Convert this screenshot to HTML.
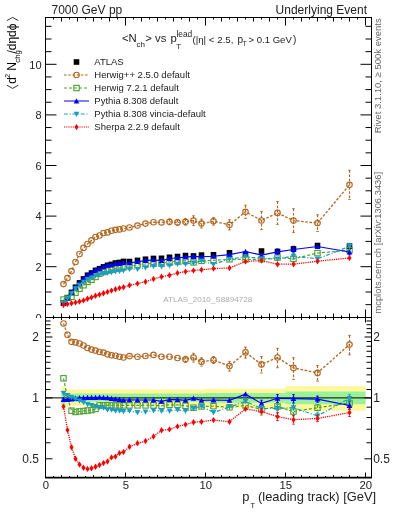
<!DOCTYPE html>
<html><head><meta charset="utf-8"><style>
html,body{margin:0;padding:0;background:#fff;overflow:hidden;}
svg{display:block;font-family:"Liberation Sans", sans-serif;will-change:transform;}
</style></head><body>
<svg width="393" height="512" viewBox="0 0 393 512">
<rect width="393" height="512" fill="#fff"/>
<defs><clipPath id="ctop"><rect x="45.5" y="17.5" width="326" height="300"/></clipPath><clipPath id="cbot"><rect x="45.5" y="317.5" width="326" height="160"/></clipPath></defs>
<text x="51.5" y="14" font-size="12" text-anchor="start" fill="#222" >7000 GeV pp</text>
<text x="367" y="14" font-size="12" text-anchor="end" fill="#222" >Underlying Event</text>
<g transform="translate(16.2,89) rotate(-90)">
<path d="M3.8,-9.3 L0.6,-3.6 L3.8,2.1" fill="none" stroke="#000" stroke-width="0.8"/>
<text x="5.2" y="0" font-size="12">d</text>
<text x="11" y="-6.2" font-size="7.6">2</text>
<text x="18.2" y="0" font-size="12">N</text>
<text x="26.3" y="3.3" font-size="7.8">chg</text>
<text x="35.4" y="0" font-size="12">/dηdϕ</text>
<path d="M68.4,-9.3 L71.6,-3.6 L68.4,2.1" fill="none" stroke="#000" stroke-width="0.8"/>
</g>
<text x="0" y="0" font-size="9.5" text-anchor="middle" fill="#222" transform="translate(19,396.5) rotate(-90)">Ratio to ATLAS</text>
<text x="0" y="0" font-size="9.5" text-anchor="end" fill="#666" transform="translate(381,18.3) rotate(-90)">Rivet 3.1.10, ≥ 500k events</text>
<text x="0" y="0" font-size="9.4" text-anchor="start" fill="#666" transform="translate(381,313.6) rotate(-90)">mcplots.cern.ch [arXiv:1306.3436]</text>
<text x="207.7" y="302.0" font-size="8.1" text-anchor="middle" fill="#aaa" >ATLAS_2010_S8894728</text>
<rect x="60.70" y="300.29" width="5.6" height="5.6" fill="#000"/>
<rect x="64.70" y="295.07" width="5.6" height="5.6" fill="#000"/>
<rect x="68.70" y="289.61" width="5.6" height="5.6" fill="#000"/>
<rect x="72.70" y="284.44" width="5.6" height="5.6" fill="#000"/>
<rect x="76.70" y="280.10" width="5.6" height="5.6" fill="#000"/>
<rect x="80.70" y="276.17" width="5.6" height="5.6" fill="#000"/>
<rect x="84.70" y="272.46" width="5.6" height="5.6" fill="#000"/>
<rect x="88.70" y="270.20" width="5.6" height="5.6" fill="#000"/>
<rect x="92.70" y="267.58" width="5.6" height="5.6" fill="#000"/>
<rect x="96.70" y="265.92" width="5.6" height="5.6" fill="#000"/>
<rect x="100.70" y="264.08" width="5.6" height="5.6" fill="#000"/>
<rect x="104.70" y="262.50" width="5.6" height="5.6" fill="#000"/>
<rect x="108.70" y="261.59" width="5.6" height="5.6" fill="#000"/>
<rect x="112.70" y="260.16" width="5.6" height="5.6" fill="#000"/>
<rect x="116.70" y="259.66" width="5.6" height="5.6" fill="#000"/>
<rect x="120.70" y="258.63" width="5.6" height="5.6" fill="#000"/>
<rect x="126.70" y="258.73" width="5.6" height="5.6" fill="#000"/>
<rect x="134.70" y="257.58" width="5.6" height="5.6" fill="#000"/>
<rect x="142.70" y="256.44" width="5.6" height="5.6" fill="#000"/>
<rect x="150.70" y="255.65" width="5.6" height="5.6" fill="#000"/>
<rect x="158.70" y="255.53" width="5.6" height="5.6" fill="#000"/>
<rect x="166.70" y="254.50" width="5.6" height="5.6" fill="#000"/>
<rect x="174.70" y="253.73" width="5.6" height="5.6" fill="#000"/>
<rect x="182.70" y="252.76" width="5.6" height="5.6" fill="#000"/>
<rect x="190.70" y="253.15" width="5.6" height="5.6" fill="#000"/>
<rect x="198.70" y="252.29" width="5.6" height="5.6" fill="#000"/>
<rect x="210.70" y="251.97" width="5.6" height="5.6" fill="#000"/>
<rect x="226.70" y="249.98" width="5.6" height="5.6" fill="#000"/>
<rect x="242.70" y="251.44" width="5.6" height="5.6" fill="#000"/>
<rect x="258.70" y="248.24" width="5.6" height="5.6" fill="#000"/>
<rect x="274.70" y="248.69" width="5.6" height="5.6" fill="#000"/>
<rect x="290.70" y="246.11" width="5.6" height="5.6" fill="#000"/>
<rect x="314.70" y="242.74" width="5.6" height="5.6" fill="#000"/>
<rect x="346.70" y="243.32" width="5.6" height="5.6" fill="#000"/>
<polyline points="63.50,284.10 67.50,278.10 71.50,271.10 75.50,262.00 79.50,254.00 83.50,247.90 87.50,244.00 91.50,240.40 95.50,237.00 99.50,235.50 103.50,233.00 107.50,232.40 111.50,230.70 115.50,229.80 119.50,229.40 123.50,228.50 129.50,227.50 137.50,225.60 145.50,223.60 153.50,222.20 161.50,222.40 169.50,221.80 177.50,222.40 185.50,221.80 193.50,220.60 201.50,223.60 213.50,221.30 229.50,224.80 245.50,211.80 261.50,220.50 277.50,212.90 293.50,220.60 317.50,223.10 349.50,184.80" fill="none" stroke="#b5651d" stroke-width="1.3" stroke-dasharray="2.6,1.6" clip-path="url(#ctop)"/>
<line x1="169.5" y1="218.94" x2="169.5" y2="224.66" stroke="#b5651d" stroke-width="1.2" stroke-dasharray="2.6,1.6"/>
<line x1="168.3" y1="218.94" x2="170.7" y2="218.94" stroke="#b5651d" stroke-width="1"/>
<line x1="168.3" y1="224.66" x2="170.7" y2="224.66" stroke="#b5651d" stroke-width="1"/>
<line x1="177.5" y1="219.56" x2="177.5" y2="225.24" stroke="#b5651d" stroke-width="1.2" stroke-dasharray="2.6,1.6"/>
<line x1="176.3" y1="219.56" x2="178.7" y2="219.56" stroke="#b5651d" stroke-width="1"/>
<line x1="176.3" y1="225.24" x2="178.7" y2="225.24" stroke="#b5651d" stroke-width="1"/>
<line x1="185.5" y1="218.46" x2="185.5" y2="225.14" stroke="#b5651d" stroke-width="1.2" stroke-dasharray="2.6,1.6"/>
<line x1="184.3" y1="218.46" x2="186.7" y2="218.46" stroke="#b5651d" stroke-width="1"/>
<line x1="184.3" y1="225.14" x2="186.7" y2="225.14" stroke="#b5651d" stroke-width="1"/>
<line x1="193.5" y1="215.77" x2="193.5" y2="225.43" stroke="#b5651d" stroke-width="1.2" stroke-dasharray="2.6,1.6"/>
<line x1="192.3" y1="215.77" x2="194.7" y2="215.77" stroke="#b5651d" stroke-width="1"/>
<line x1="192.3" y1="225.43" x2="194.7" y2="225.43" stroke="#b5651d" stroke-width="1"/>
<line x1="201.5" y1="219.20" x2="201.5" y2="228.00" stroke="#b5651d" stroke-width="1.2" stroke-dasharray="2.6,1.6"/>
<line x1="200.3" y1="219.20" x2="202.7" y2="219.20" stroke="#b5651d" stroke-width="1"/>
<line x1="200.3" y1="228.00" x2="202.7" y2="228.00" stroke="#b5651d" stroke-width="1"/>
<line x1="213.5" y1="217.46" x2="213.5" y2="225.14" stroke="#b5651d" stroke-width="1.2" stroke-dasharray="2.6,1.6"/>
<line x1="212.3" y1="217.46" x2="214.7" y2="217.46" stroke="#b5651d" stroke-width="1"/>
<line x1="212.3" y1="225.14" x2="214.7" y2="225.14" stroke="#b5651d" stroke-width="1"/>
<line x1="229.5" y1="219.72" x2="229.5" y2="229.88" stroke="#b5651d" stroke-width="1.2" stroke-dasharray="2.6,1.6"/>
<line x1="228.3" y1="219.72" x2="230.7" y2="219.72" stroke="#b5651d" stroke-width="1"/>
<line x1="228.3" y1="229.88" x2="230.7" y2="229.88" stroke="#b5651d" stroke-width="1"/>
<line x1="245.5" y1="205.16" x2="245.5" y2="218.44" stroke="#b5651d" stroke-width="1.2" stroke-dasharray="2.6,1.6"/>
<line x1="244.3" y1="205.16" x2="246.7" y2="205.16" stroke="#b5651d" stroke-width="1"/>
<line x1="244.3" y1="218.44" x2="246.7" y2="218.44" stroke="#b5651d" stroke-width="1"/>
<line x1="261.5" y1="211.41" x2="261.5" y2="229.59" stroke="#b5651d" stroke-width="1.2" stroke-dasharray="2.6,1.6"/>
<line x1="260.3" y1="211.41" x2="262.7" y2="211.41" stroke="#b5651d" stroke-width="1"/>
<line x1="260.3" y1="229.59" x2="262.7" y2="229.59" stroke="#b5651d" stroke-width="1"/>
<line x1="277.5" y1="201.43" x2="277.5" y2="224.37" stroke="#b5651d" stroke-width="1.2" stroke-dasharray="2.6,1.6"/>
<line x1="276.3" y1="201.43" x2="278.7" y2="201.43" stroke="#b5651d" stroke-width="1"/>
<line x1="276.3" y1="224.37" x2="278.7" y2="224.37" stroke="#b5651d" stroke-width="1"/>
<line x1="293.5" y1="208.72" x2="293.5" y2="232.48" stroke="#b5651d" stroke-width="1.2" stroke-dasharray="2.6,1.6"/>
<line x1="292.3" y1="208.72" x2="294.7" y2="208.72" stroke="#b5651d" stroke-width="1"/>
<line x1="292.3" y1="232.48" x2="294.7" y2="232.48" stroke="#b5651d" stroke-width="1"/>
<line x1="317.5" y1="214.73" x2="317.5" y2="231.47" stroke="#b5651d" stroke-width="1.2" stroke-dasharray="2.6,1.6"/>
<line x1="316.3" y1="214.73" x2="318.7" y2="214.73" stroke="#b5651d" stroke-width="1"/>
<line x1="316.3" y1="231.47" x2="318.7" y2="231.47" stroke="#b5651d" stroke-width="1"/>
<line x1="349.5" y1="170.24" x2="349.5" y2="199.36" stroke="#b5651d" stroke-width="1.2" stroke-dasharray="2.6,1.6"/>
<line x1="348.3" y1="170.24" x2="350.7" y2="170.24" stroke="#b5651d" stroke-width="1"/>
<line x1="348.3" y1="199.36" x2="350.7" y2="199.36" stroke="#b5651d" stroke-width="1"/>
<circle cx="63.50" cy="284.10" r="2.75" fill="none" stroke="#b5651d" stroke-width="1.15"/>
<circle cx="67.50" cy="278.10" r="2.75" fill="none" stroke="#b5651d" stroke-width="1.15"/>
<circle cx="71.50" cy="271.10" r="2.75" fill="none" stroke="#b5651d" stroke-width="1.15"/>
<circle cx="75.50" cy="262.00" r="2.75" fill="none" stroke="#b5651d" stroke-width="1.15"/>
<circle cx="79.50" cy="254.00" r="2.75" fill="none" stroke="#b5651d" stroke-width="1.15"/>
<circle cx="83.50" cy="247.90" r="2.75" fill="none" stroke="#b5651d" stroke-width="1.15"/>
<circle cx="87.50" cy="244.00" r="2.75" fill="none" stroke="#b5651d" stroke-width="1.15"/>
<circle cx="91.50" cy="240.40" r="2.75" fill="none" stroke="#b5651d" stroke-width="1.15"/>
<circle cx="95.50" cy="237.00" r="2.75" fill="none" stroke="#b5651d" stroke-width="1.15"/>
<circle cx="99.50" cy="235.50" r="2.75" fill="none" stroke="#b5651d" stroke-width="1.15"/>
<circle cx="103.50" cy="233.00" r="2.75" fill="none" stroke="#b5651d" stroke-width="1.15"/>
<circle cx="107.50" cy="232.40" r="2.75" fill="none" stroke="#b5651d" stroke-width="1.15"/>
<circle cx="111.50" cy="230.70" r="2.75" fill="none" stroke="#b5651d" stroke-width="1.15"/>
<circle cx="115.50" cy="229.80" r="2.75" fill="none" stroke="#b5651d" stroke-width="1.15"/>
<circle cx="119.50" cy="229.40" r="2.75" fill="none" stroke="#b5651d" stroke-width="1.15"/>
<circle cx="123.50" cy="228.50" r="2.75" fill="none" stroke="#b5651d" stroke-width="1.15"/>
<circle cx="129.50" cy="227.50" r="2.75" fill="none" stroke="#b5651d" stroke-width="1.15"/>
<circle cx="137.50" cy="225.60" r="2.75" fill="none" stroke="#b5651d" stroke-width="1.15"/>
<circle cx="145.50" cy="223.60" r="2.75" fill="none" stroke="#b5651d" stroke-width="1.15"/>
<circle cx="153.50" cy="222.20" r="2.75" fill="none" stroke="#b5651d" stroke-width="1.15"/>
<circle cx="161.50" cy="222.40" r="2.75" fill="none" stroke="#b5651d" stroke-width="1.15"/>
<circle cx="169.50" cy="221.80" r="2.75" fill="none" stroke="#b5651d" stroke-width="1.15"/>
<circle cx="177.50" cy="222.40" r="2.75" fill="none" stroke="#b5651d" stroke-width="1.15"/>
<circle cx="185.50" cy="221.80" r="2.75" fill="none" stroke="#b5651d" stroke-width="1.15"/>
<circle cx="193.50" cy="220.60" r="2.75" fill="none" stroke="#b5651d" stroke-width="1.15"/>
<circle cx="201.50" cy="223.60" r="2.75" fill="none" stroke="#b5651d" stroke-width="1.15"/>
<circle cx="213.50" cy="221.30" r="2.75" fill="none" stroke="#b5651d" stroke-width="1.15"/>
<circle cx="229.50" cy="224.80" r="2.75" fill="none" stroke="#b5651d" stroke-width="1.15"/>
<circle cx="245.50" cy="211.80" r="2.75" fill="none" stroke="#b5651d" stroke-width="1.15"/>
<circle cx="261.50" cy="220.50" r="2.75" fill="none" stroke="#b5651d" stroke-width="1.15"/>
<circle cx="277.50" cy="212.90" r="2.75" fill="none" stroke="#b5651d" stroke-width="1.15"/>
<circle cx="293.50" cy="220.60" r="2.75" fill="none" stroke="#b5651d" stroke-width="1.15"/>
<circle cx="317.50" cy="223.10" r="2.75" fill="none" stroke="#b5651d" stroke-width="1.15"/>
<circle cx="349.50" cy="184.80" r="2.75" fill="none" stroke="#b5651d" stroke-width="1.15"/>
<polyline points="63.50,299.57 67.50,297.89 71.50,296.77 75.50,292.68 79.50,288.79 83.50,285.27 87.50,281.86 91.50,279.73 95.50,276.94 99.50,273.69 103.50,272.00 107.50,270.54 111.50,269.71 115.50,268.40 119.50,267.94 123.50,266.99 129.50,266.09 137.50,265.03 145.50,263.99 153.50,263.25 161.50,263.40 169.50,261.82 177.50,261.12 185.50,260.86 193.50,262.41 201.50,260.89 213.50,260.39 229.50,259.31 245.50,259.39 261.50,259.23 277.50,257.62 293.50,258.77 317.50,253.11 349.50,250.13" fill="none" stroke="#4ca02c" stroke-width="1.2" stroke-dasharray="3,2" clip-path="url(#ctop)"/>
<line x1="293.5" y1="255.89" x2="293.5" y2="261.64" stroke="#4ca02c" stroke-width="1.2" stroke-dasharray="3,2"/>
<line x1="292.3" y1="255.89" x2="294.7" y2="255.89" stroke="#4ca02c" stroke-width="1"/>
<line x1="292.3" y1="261.64" x2="294.7" y2="261.64" stroke="#4ca02c" stroke-width="1"/>
<line x1="349.5" y1="247.18" x2="349.5" y2="253.08" stroke="#4ca02c" stroke-width="1.2" stroke-dasharray="3,2"/>
<line x1="348.3" y1="247.18" x2="350.7" y2="247.18" stroke="#4ca02c" stroke-width="1"/>
<line x1="348.3" y1="253.08" x2="350.7" y2="253.08" stroke="#4ca02c" stroke-width="1"/>
<rect x="60.80" y="296.87" width="5.4" height="5.4" fill="none" stroke="#4ca02c" stroke-width="1.1"/>
<rect x="64.80" y="295.19" width="5.4" height="5.4" fill="none" stroke="#4ca02c" stroke-width="1.1"/>
<rect x="68.80" y="294.07" width="5.4" height="5.4" fill="none" stroke="#4ca02c" stroke-width="1.1"/>
<rect x="72.80" y="289.98" width="5.4" height="5.4" fill="none" stroke="#4ca02c" stroke-width="1.1"/>
<rect x="76.80" y="286.09" width="5.4" height="5.4" fill="none" stroke="#4ca02c" stroke-width="1.1"/>
<rect x="80.80" y="282.57" width="5.4" height="5.4" fill="none" stroke="#4ca02c" stroke-width="1.1"/>
<rect x="84.80" y="279.16" width="5.4" height="5.4" fill="none" stroke="#4ca02c" stroke-width="1.1"/>
<rect x="88.80" y="277.03" width="5.4" height="5.4" fill="none" stroke="#4ca02c" stroke-width="1.1"/>
<rect x="92.80" y="274.24" width="5.4" height="5.4" fill="none" stroke="#4ca02c" stroke-width="1.1"/>
<rect x="96.80" y="270.99" width="5.4" height="5.4" fill="none" stroke="#4ca02c" stroke-width="1.1"/>
<rect x="100.80" y="269.30" width="5.4" height="5.4" fill="none" stroke="#4ca02c" stroke-width="1.1"/>
<rect x="104.80" y="267.84" width="5.4" height="5.4" fill="none" stroke="#4ca02c" stroke-width="1.1"/>
<rect x="108.80" y="267.01" width="5.4" height="5.4" fill="none" stroke="#4ca02c" stroke-width="1.1"/>
<rect x="112.80" y="265.70" width="5.4" height="5.4" fill="none" stroke="#4ca02c" stroke-width="1.1"/>
<rect x="116.80" y="265.24" width="5.4" height="5.4" fill="none" stroke="#4ca02c" stroke-width="1.1"/>
<rect x="120.80" y="264.29" width="5.4" height="5.4" fill="none" stroke="#4ca02c" stroke-width="1.1"/>
<rect x="126.80" y="263.39" width="5.4" height="5.4" fill="none" stroke="#4ca02c" stroke-width="1.1"/>
<rect x="134.80" y="262.33" width="5.4" height="5.4" fill="none" stroke="#4ca02c" stroke-width="1.1"/>
<rect x="142.80" y="261.29" width="5.4" height="5.4" fill="none" stroke="#4ca02c" stroke-width="1.1"/>
<rect x="150.80" y="260.55" width="5.4" height="5.4" fill="none" stroke="#4ca02c" stroke-width="1.1"/>
<rect x="158.80" y="260.70" width="5.4" height="5.4" fill="none" stroke="#4ca02c" stroke-width="1.1"/>
<rect x="166.80" y="259.12" width="5.4" height="5.4" fill="none" stroke="#4ca02c" stroke-width="1.1"/>
<rect x="174.80" y="258.42" width="5.4" height="5.4" fill="none" stroke="#4ca02c" stroke-width="1.1"/>
<rect x="182.80" y="258.16" width="5.4" height="5.4" fill="none" stroke="#4ca02c" stroke-width="1.1"/>
<rect x="190.80" y="259.71" width="5.4" height="5.4" fill="none" stroke="#4ca02c" stroke-width="1.1"/>
<rect x="198.80" y="258.19" width="5.4" height="5.4" fill="none" stroke="#4ca02c" stroke-width="1.1"/>
<rect x="210.80" y="257.69" width="5.4" height="5.4" fill="none" stroke="#4ca02c" stroke-width="1.1"/>
<rect x="226.80" y="256.61" width="5.4" height="5.4" fill="none" stroke="#4ca02c" stroke-width="1.1"/>
<rect x="242.80" y="256.69" width="5.4" height="5.4" fill="none" stroke="#4ca02c" stroke-width="1.1"/>
<rect x="258.80" y="256.53" width="5.4" height="5.4" fill="none" stroke="#4ca02c" stroke-width="1.1"/>
<rect x="274.80" y="254.92" width="5.4" height="5.4" fill="none" stroke="#4ca02c" stroke-width="1.1"/>
<rect x="290.80" y="256.07" width="5.4" height="5.4" fill="none" stroke="#4ca02c" stroke-width="1.1"/>
<rect x="314.80" y="250.41" width="5.4" height="5.4" fill="none" stroke="#4ca02c" stroke-width="1.1"/>
<rect x="346.80" y="247.43" width="5.4" height="5.4" fill="none" stroke="#4ca02c" stroke-width="1.1"/>
<polyline points="63.50,303.35 67.50,298.22 71.50,292.72 75.50,287.45 79.50,282.94 83.50,278.93 87.50,275.11 91.50,272.85 95.50,270.22 99.50,268.44 103.50,266.71 107.50,265.24 111.50,264.81 115.50,263.75 119.50,263.57 123.50,262.87 129.50,262.79 137.50,261.72 145.50,260.61 153.50,259.83 161.50,260.57 169.50,258.51 177.50,257.76 185.50,257.22 193.50,256.29 201.50,256.77 213.50,256.24 229.50,254.58 245.50,251.53 261.50,255.06 277.50,251.79 293.50,249.53 317.50,246.52 349.50,252.01" fill="none" stroke="#0000ff" stroke-width="1.2"  clip-path="url(#ctop)"/>
<line x1="277.5" y1="248.91" x2="277.5" y2="254.66" stroke="#0000ff" stroke-width="1.2" />
<line x1="276.3" y1="248.91" x2="278.7" y2="248.91" stroke="#0000ff" stroke-width="1"/>
<line x1="276.3" y1="254.66" x2="278.7" y2="254.66" stroke="#0000ff" stroke-width="1"/>
<line x1="293.5" y1="246.20" x2="293.5" y2="252.86" stroke="#0000ff" stroke-width="1.2" />
<line x1="292.3" y1="246.20" x2="294.7" y2="246.20" stroke="#0000ff" stroke-width="1"/>
<line x1="292.3" y1="252.86" x2="294.7" y2="252.86" stroke="#0000ff" stroke-width="1"/>
<line x1="349.5" y1="249.14" x2="349.5" y2="254.88" stroke="#0000ff" stroke-width="1.2" />
<line x1="348.3" y1="249.14" x2="350.7" y2="249.14" stroke="#0000ff" stroke-width="1"/>
<line x1="348.3" y1="254.88" x2="350.7" y2="254.88" stroke="#0000ff" stroke-width="1"/>
<path d="M60.70,305.75L66.30,305.75L63.50,300.45Z" fill="#0000ff"/>
<path d="M64.70,300.62L70.30,300.62L67.50,295.32Z" fill="#0000ff"/>
<path d="M68.70,295.12L74.30,295.12L71.50,289.82Z" fill="#0000ff"/>
<path d="M72.70,289.85L78.30,289.85L75.50,284.55Z" fill="#0000ff"/>
<path d="M76.70,285.34L82.30,285.34L79.50,280.04Z" fill="#0000ff"/>
<path d="M80.70,281.33L86.30,281.33L83.50,276.03Z" fill="#0000ff"/>
<path d="M84.70,277.51L90.30,277.51L87.50,272.21Z" fill="#0000ff"/>
<path d="M88.70,275.25L94.30,275.25L91.50,269.95Z" fill="#0000ff"/>
<path d="M92.70,272.62L98.30,272.62L95.50,267.32Z" fill="#0000ff"/>
<path d="M96.70,270.84L102.30,270.84L99.50,265.54Z" fill="#0000ff"/>
<path d="M100.70,269.11L106.30,269.11L103.50,263.81Z" fill="#0000ff"/>
<path d="M104.70,267.64L110.30,267.64L107.50,262.34Z" fill="#0000ff"/>
<path d="M108.70,267.21L114.30,267.21L111.50,261.91Z" fill="#0000ff"/>
<path d="M112.70,266.15L118.30,266.15L115.50,260.85Z" fill="#0000ff"/>
<path d="M116.70,265.97L122.30,265.97L119.50,260.67Z" fill="#0000ff"/>
<path d="M120.70,265.27L126.30,265.27L123.50,259.97Z" fill="#0000ff"/>
<path d="M126.70,265.19L132.30,265.19L129.50,259.89Z" fill="#0000ff"/>
<path d="M134.70,264.12L140.30,264.12L137.50,258.82Z" fill="#0000ff"/>
<path d="M142.70,263.01L148.30,263.01L145.50,257.71Z" fill="#0000ff"/>
<path d="M150.70,262.23L156.30,262.23L153.50,256.93Z" fill="#0000ff"/>
<path d="M158.70,262.97L164.30,262.97L161.50,257.67Z" fill="#0000ff"/>
<path d="M166.70,260.91L172.30,260.91L169.50,255.61Z" fill="#0000ff"/>
<path d="M174.70,260.16L180.30,260.16L177.50,254.86Z" fill="#0000ff"/>
<path d="M182.70,259.62L188.30,259.62L185.50,254.32Z" fill="#0000ff"/>
<path d="M190.70,258.69L196.30,258.69L193.50,253.39Z" fill="#0000ff"/>
<path d="M198.70,259.17L204.30,259.17L201.50,253.87Z" fill="#0000ff"/>
<path d="M210.70,258.64L216.30,258.64L213.50,253.34Z" fill="#0000ff"/>
<path d="M226.70,256.98L232.30,256.98L229.50,251.68Z" fill="#0000ff"/>
<path d="M242.70,253.93L248.30,253.93L245.50,248.63Z" fill="#0000ff"/>
<path d="M258.70,257.46L264.30,257.46L261.50,252.16Z" fill="#0000ff"/>
<path d="M274.70,254.19L280.30,254.19L277.50,248.89Z" fill="#0000ff"/>
<path d="M290.70,251.93L296.30,251.93L293.50,246.63Z" fill="#0000ff"/>
<path d="M314.70,248.92L320.30,248.92L317.50,243.62Z" fill="#0000ff"/>
<path d="M346.70,254.41L352.30,254.41L349.50,249.11Z" fill="#0000ff"/>
<polyline points="63.50,302.85 67.50,298.49 71.50,293.44 75.50,288.75 79.50,285.25 83.50,282.08 87.50,279.45 91.50,277.82 95.50,275.90 99.50,274.89 103.50,273.50 107.50,273.12 111.50,272.33 115.50,271.62 119.50,271.19 123.50,270.63 129.50,269.19 137.50,269.08 145.50,267.72 153.50,266.30 161.50,266.49 169.50,265.60 177.50,264.22 185.50,264.10 193.50,262.91 201.50,260.89 213.50,264.32 229.50,259.12 245.50,256.70 261.50,258.56 277.50,258.96 293.50,256.12 317.50,258.82 349.50,246.44" fill="none" stroke="#1a9cc4" stroke-width="1.2" stroke-dasharray="3.8,1.9,1.1,1.6" clip-path="url(#ctop)"/>
<line x1="293.5" y1="253.11" x2="293.5" y2="259.12" stroke="#1a9cc4" stroke-width="1.2" stroke-dasharray="3.8,1.9,1.1,1.6"/>
<line x1="292.3" y1="253.11" x2="294.7" y2="253.11" stroke="#1a9cc4" stroke-width="1"/>
<line x1="292.3" y1="259.12" x2="294.7" y2="259.12" stroke="#1a9cc4" stroke-width="1"/>
<line x1="349.5" y1="243.33" x2="349.5" y2="249.56" stroke="#1a9cc4" stroke-width="1.2" stroke-dasharray="3.8,1.9,1.1,1.6"/>
<line x1="348.3" y1="243.33" x2="350.7" y2="243.33" stroke="#1a9cc4" stroke-width="1"/>
<line x1="348.3" y1="249.56" x2="350.7" y2="249.56" stroke="#1a9cc4" stroke-width="1"/>
<path d="M60.70,300.45L66.30,300.45L63.50,305.75Z" fill="#1a9cc4"/>
<path d="M64.70,296.09L70.30,296.09L67.50,301.39Z" fill="#1a9cc4"/>
<path d="M68.70,291.04L74.30,291.04L71.50,296.34Z" fill="#1a9cc4"/>
<path d="M72.70,286.35L78.30,286.35L75.50,291.65Z" fill="#1a9cc4"/>
<path d="M76.70,282.85L82.30,282.85L79.50,288.15Z" fill="#1a9cc4"/>
<path d="M80.70,279.68L86.30,279.68L83.50,284.98Z" fill="#1a9cc4"/>
<path d="M84.70,277.05L90.30,277.05L87.50,282.35Z" fill="#1a9cc4"/>
<path d="M88.70,275.42L94.30,275.42L91.50,280.72Z" fill="#1a9cc4"/>
<path d="M92.70,273.50L98.30,273.50L95.50,278.80Z" fill="#1a9cc4"/>
<path d="M96.70,272.49L102.30,272.49L99.50,277.79Z" fill="#1a9cc4"/>
<path d="M100.70,271.10L106.30,271.10L103.50,276.40Z" fill="#1a9cc4"/>
<path d="M104.70,270.72L110.30,270.72L107.50,276.02Z" fill="#1a9cc4"/>
<path d="M108.70,269.93L114.30,269.93L111.50,275.23Z" fill="#1a9cc4"/>
<path d="M112.70,269.22L118.30,269.22L115.50,274.52Z" fill="#1a9cc4"/>
<path d="M116.70,268.79L122.30,268.79L119.50,274.09Z" fill="#1a9cc4"/>
<path d="M120.70,268.23L126.30,268.23L123.50,273.53Z" fill="#1a9cc4"/>
<path d="M126.70,266.79L132.30,266.79L129.50,272.09Z" fill="#1a9cc4"/>
<path d="M134.70,266.68L140.30,266.68L137.50,271.98Z" fill="#1a9cc4"/>
<path d="M142.70,265.32L148.30,265.32L145.50,270.62Z" fill="#1a9cc4"/>
<path d="M150.70,263.90L156.30,263.90L153.50,269.20Z" fill="#1a9cc4"/>
<path d="M158.70,264.09L164.30,264.09L161.50,269.39Z" fill="#1a9cc4"/>
<path d="M166.70,263.20L172.30,263.20L169.50,268.50Z" fill="#1a9cc4"/>
<path d="M174.70,261.82L180.30,261.82L177.50,267.12Z" fill="#1a9cc4"/>
<path d="M182.70,261.70L188.30,261.70L185.50,267.00Z" fill="#1a9cc4"/>
<path d="M190.70,260.51L196.30,260.51L193.50,265.81Z" fill="#1a9cc4"/>
<path d="M198.70,258.49L204.30,258.49L201.50,263.79Z" fill="#1a9cc4"/>
<path d="M210.70,261.92L216.30,261.92L213.50,267.22Z" fill="#1a9cc4"/>
<path d="M226.70,256.72L232.30,256.72L229.50,262.02Z" fill="#1a9cc4"/>
<path d="M242.70,254.30L248.30,254.30L245.50,259.60Z" fill="#1a9cc4"/>
<path d="M258.70,256.16L264.30,256.16L261.50,261.46Z" fill="#1a9cc4"/>
<path d="M274.70,256.56L280.30,256.56L277.50,261.86Z" fill="#1a9cc4"/>
<path d="M290.70,253.72L296.30,253.72L293.50,259.02Z" fill="#1a9cc4"/>
<path d="M314.70,256.42L320.30,256.42L317.50,261.72Z" fill="#1a9cc4"/>
<path d="M346.70,244.04L352.30,244.04L349.50,249.34Z" fill="#1a9cc4"/>
<polyline points="63.50,305.00 67.50,304.10 71.50,303.30 75.50,302.40 79.50,301.50 83.50,300.40 87.50,298.80 91.50,297.40 95.50,295.80 99.50,294.60 103.50,293.20 107.50,291.90 111.50,290.60 115.50,289.30 119.50,288.10 123.50,287.20 129.50,285.30 137.50,283.60 145.50,281.80 153.50,279.00 161.50,276.80 169.50,275.20 177.50,273.00 185.50,271.60 193.50,270.60 201.50,269.80 213.50,268.60 229.50,268.00 245.50,261.50 261.50,260.50 277.50,264.20 293.50,264.20 317.50,261.20 349.50,258.00" fill="none" stroke="#ff0000" stroke-width="1.3" stroke-dasharray="1.2,1" clip-path="url(#ctop)"/>
<path d="M63.50,301.80L65.50,305.00L63.50,308.20L61.50,305.00Z" fill="#ff0000"/>
<path d="M67.50,300.90L69.50,304.10L67.50,307.30L65.50,304.10Z" fill="#ff0000"/>
<path d="M71.50,300.10L73.50,303.30L71.50,306.50L69.50,303.30Z" fill="#ff0000"/>
<path d="M75.50,299.20L77.50,302.40L75.50,305.60L73.50,302.40Z" fill="#ff0000"/>
<path d="M79.50,298.30L81.50,301.50L79.50,304.70L77.50,301.50Z" fill="#ff0000"/>
<path d="M83.50,297.20L85.50,300.40L83.50,303.60L81.50,300.40Z" fill="#ff0000"/>
<path d="M87.50,295.60L89.50,298.80L87.50,302.00L85.50,298.80Z" fill="#ff0000"/>
<path d="M91.50,294.20L93.50,297.40L91.50,300.60L89.50,297.40Z" fill="#ff0000"/>
<path d="M95.50,292.60L97.50,295.80L95.50,299.00L93.50,295.80Z" fill="#ff0000"/>
<path d="M99.50,291.40L101.50,294.60L99.50,297.80L97.50,294.60Z" fill="#ff0000"/>
<path d="M103.50,290.00L105.50,293.20L103.50,296.40L101.50,293.20Z" fill="#ff0000"/>
<path d="M107.50,288.70L109.50,291.90L107.50,295.10L105.50,291.90Z" fill="#ff0000"/>
<path d="M111.50,287.40L113.50,290.60L111.50,293.80L109.50,290.60Z" fill="#ff0000"/>
<path d="M115.50,286.10L117.50,289.30L115.50,292.50L113.50,289.30Z" fill="#ff0000"/>
<path d="M119.50,284.90L121.50,288.10L119.50,291.30L117.50,288.10Z" fill="#ff0000"/>
<path d="M123.50,284.00L125.50,287.20L123.50,290.40L121.50,287.20Z" fill="#ff0000"/>
<path d="M129.50,282.10L131.50,285.30L129.50,288.50L127.50,285.30Z" fill="#ff0000"/>
<path d="M137.50,280.40L139.50,283.60L137.50,286.80L135.50,283.60Z" fill="#ff0000"/>
<path d="M145.50,278.60L147.50,281.80L145.50,285.00L143.50,281.80Z" fill="#ff0000"/>
<path d="M153.50,275.80L155.50,279.00L153.50,282.20L151.50,279.00Z" fill="#ff0000"/>
<path d="M161.50,273.60L163.50,276.80L161.50,280.00L159.50,276.80Z" fill="#ff0000"/>
<path d="M169.50,272.00L171.50,275.20L169.50,278.40L167.50,275.20Z" fill="#ff0000"/>
<path d="M177.50,269.80L179.50,273.00L177.50,276.20L175.50,273.00Z" fill="#ff0000"/>
<path d="M185.50,268.40L187.50,271.60L185.50,274.80L183.50,271.60Z" fill="#ff0000"/>
<path d="M193.50,267.40L195.50,270.60L193.50,273.80L191.50,270.60Z" fill="#ff0000"/>
<path d="M201.50,266.60L203.50,269.80L201.50,273.00L199.50,269.80Z" fill="#ff0000"/>
<path d="M213.50,265.40L215.50,268.60L213.50,271.80L211.50,268.60Z" fill="#ff0000"/>
<path d="M229.50,264.80L231.50,268.00L229.50,271.20L227.50,268.00Z" fill="#ff0000"/>
<path d="M245.50,258.30L247.50,261.50L245.50,264.70L243.50,261.50Z" fill="#ff0000"/>
<path d="M261.50,257.30L263.50,260.50L261.50,263.70L259.50,260.50Z" fill="#ff0000"/>
<path d="M277.50,261.00L279.50,264.20L277.50,267.40L275.50,264.20Z" fill="#ff0000"/>
<path d="M293.50,261.00L295.50,264.20L293.50,267.40L291.50,264.20Z" fill="#ff0000"/>
<path d="M317.50,258.00L319.50,261.20L317.50,264.40L315.50,261.20Z" fill="#ff0000"/>
<path d="M349.50,254.80L351.50,258.00L349.50,261.20L347.50,258.00Z" fill="#ff0000"/>
<rect x="73.70" y="59.20" width="5.6" height="5.6" fill="#000"/>
<text x="94.3" y="65.0" font-size="9.5" text-anchor="start" fill="#222" >ATLAS</text>
<line x1="64" y1="75" x2="89" y2="75" stroke="#b5651d" stroke-width="1.0" stroke-dasharray="2.6,1.6"/>
<circle cx="76.50" cy="75.02" r="2.75" fill="none" stroke="#b5651d" stroke-width="1.15"/>
<text x="94.3" y="78.02" font-size="9.5" text-anchor="start" fill="#222" >Herwig++ 2.5.0 default</text>
<line x1="64" y1="88" x2="89" y2="88" stroke="#4ca02c" stroke-width="1.0" stroke-dasharray="3,2"/>
<rect x="73.80" y="85.34" width="5.4" height="5.4" fill="none" stroke="#4ca02c" stroke-width="1.1"/>
<text x="94.3" y="91.03999999999999" font-size="9.5" text-anchor="start" fill="#222" >Herwig 7.2.1 default</text>
<line x1="64" y1="101" x2="89" y2="101" stroke="#0000ff" stroke-width="1.0" />
<path d="M73.70,103.46L79.30,103.46L76.50,98.16Z" fill="#0000ff"/>
<text x="94.3" y="104.06" font-size="9.5" text-anchor="start" fill="#222" >Pythia 8.308 default</text>
<line x1="64" y1="114" x2="89" y2="114" stroke="#1a9cc4" stroke-width="1.0" stroke-dasharray="3.8,1.9,1.1,1.6"/>
<path d="M73.70,111.68L79.30,111.68L76.50,116.98Z" fill="#1a9cc4"/>
<text x="94.3" y="117.08" font-size="9.5" text-anchor="start" fill="#222" >Pythia 8.308 vincia-default</text>
<line x1="64" y1="127" x2="89" y2="127" stroke="#ff0000" stroke-width="1.0" stroke-dasharray="1.2,1"/>
<path d="M76.50,123.90L78.50,127.10L76.50,130.30L74.50,127.10Z" fill="#ff0000"/>
<text x="94.3" y="130.1" font-size="9.5" text-anchor="start" fill="#222" >Sherpa 2.2.9 default</text>
<text x="41.6" y="321.5" font-size="11" text-anchor="end" fill="#222" >0</text>
<rect x="0" y="318" width="372" height="160" fill="#fff"/>
<path d="M61.5,386.7 L61.5,386.7 L65.5,386.7 L65.5,389.6 L69.5,389.6 L69.5,389.6 L73.5,389.6 L73.5,389.6 L77.5,389.6 L77.5,389.6 L81.5,389.6 L81.5,389.6 L85.5,389.6 L85.5,389.6 L89.5,389.6 L89.5,389.6 L93.5,389.6 L93.5,389.6 L97.5,389.6 L97.5,389.6 L101.5,389.6 L101.5,389.6 L105.5,389.6 L105.5,389.6 L109.5,389.6 L109.5,389.6 L113.5,389.6 L113.5,389.6 L117.5,389.6 L117.5,389.6 L121.5,389.6 L121.5,389.6 L125.5,389.6 L125.5,389.6 L133.5,389.6 L133.5,389.6 L141.5,389.6 L141.5,389.6 L149.5,389.6 L149.5,389.6 L157.5,389.6 L157.5,389.6 L165.5,389.6 L165.5,389.6 L173.5,389.6 L173.5,389.6 L181.5,389.6 L181.5,389.6 L189.5,389.6 L189.5,389.6 L197.5,389.6 L197.5,389.6 L205.5,389.6 L205.5,388.8 L221.5,388.8 L221.5,388.8 L237.5,388.8 L237.5,388.8 L253.5,388.8 L253.5,388.8 L269.5,388.8 L269.5,388.8 L285.5,388.8 L285.5,386.2 L301.5,386.2 L301.5,386.2 L333.5,386.2 L333.5,386.2 L365.5,386.2 L365.5,410.7 L333.5,410.7 L333.5,410.7 L301.5,410.7 L301.5,410.7 L285.5,410.7 L285.5,408.3 L269.5,408.3 L269.5,408.3 L253.5,408.3 L253.5,408.3 L237.5,408.3 L237.5,408.3 L221.5,408.3 L221.5,408.3 L205.5,408.3 L205.5,405.8 L197.5,405.8 L197.5,405.8 L189.5,405.8 L189.5,405.8 L181.5,405.8 L181.5,405.8 L173.5,405.8 L173.5,405.8 L165.5,405.8 L165.5,405.8 L157.5,405.8 L157.5,405.8 L149.5,405.8 L149.5,405.8 L141.5,405.8 L141.5,405.8 L133.5,405.8 L133.5,405.8 L125.5,405.8 L125.5,405.8 L121.5,405.8 L121.5,405.8 L117.5,405.8 L117.5,405.8 L113.5,405.8 L113.5,405.8 L109.5,405.8 L109.5,405.8 L105.5,405.8 L105.5,405.8 L101.5,405.8 L101.5,405.8 L97.5,405.8 L97.5,405.8 L93.5,405.8 L93.5,405.8 L89.5,405.8 L89.5,405.8 L85.5,405.8 L85.5,405.8 L81.5,405.8 L81.5,405.8 L77.5,405.8 L77.5,405.8 L73.5,405.8 L73.5,405.8 L69.5,405.8 L69.5,405.8 L65.5,405.8 L65.5,410 L61.5,410 Z" fill="#fff899"/>
<path d="M61.5,390.6 L61.5,390.6 L65.5,390.6 L65.5,393.5 L69.5,393.5 L69.5,393.5 L73.5,393.5 L73.5,393.5 L77.5,393.5 L77.5,393.5 L81.5,393.5 L81.5,393.5 L85.5,393.5 L85.5,393.5 L89.5,393.5 L89.5,393.5 L93.5,393.5 L93.5,393.5 L97.5,393.5 L97.5,393.5 L101.5,393.5 L101.5,393.5 L105.5,393.5 L105.5,393.5 L109.5,393.5 L109.5,393.5 L113.5,393.5 L113.5,393.5 L117.5,393.5 L117.5,393.5 L121.5,393.5 L121.5,393.5 L125.5,393.5 L125.5,393.5 L133.5,393.5 L133.5,393.5 L141.5,393.5 L141.5,393.5 L149.5,393.5 L149.5,393.5 L157.5,393.5 L157.5,393.5 L165.5,393.5 L165.5,393.5 L173.5,393.5 L173.5,393.5 L181.5,393.5 L181.5,393.5 L189.5,393.5 L189.5,393.5 L197.5,393.5 L197.5,393.5 L205.5,393.5 L205.5,393.1 L221.5,393.1 L221.5,393.1 L237.5,393.1 L237.5,393.1 L253.5,393.1 L253.5,393.1 L269.5,393.1 L269.5,393.1 L285.5,393.1 L285.5,391.4 L301.5,391.4 L301.5,391.4 L333.5,391.4 L333.5,391.4 L365.5,391.4 L365.5,404.2 L333.5,404.2 L333.5,404.2 L301.5,404.2 L301.5,404.2 L285.5,404.2 L285.5,402.8 L269.5,402.8 L269.5,402.8 L253.5,402.8 L253.5,402.8 L237.5,402.8 L237.5,402.8 L221.5,402.8 L221.5,402.8 L205.5,402.8 L205.5,401.8 L197.5,401.8 L197.5,401.8 L189.5,401.8 L189.5,401.8 L181.5,401.8 L181.5,401.8 L173.5,401.8 L173.5,401.8 L165.5,401.8 L165.5,401.8 L157.5,401.8 L157.5,401.8 L149.5,401.8 L149.5,401.8 L141.5,401.8 L141.5,401.8 L133.5,401.8 L133.5,401.8 L125.5,401.8 L125.5,401.8 L121.5,401.8 L121.5,401.8 L117.5,401.8 L117.5,401.8 L113.5,401.8 L113.5,401.8 L109.5,401.8 L109.5,401.8 L105.5,401.8 L105.5,401.8 L101.5,401.8 L101.5,401.8 L97.5,401.8 L97.5,401.8 L93.5,401.8 L93.5,401.8 L89.5,401.8 L89.5,401.8 L85.5,401.8 L85.5,401.8 L81.5,401.8 L81.5,401.8 L77.5,401.8 L77.5,401.8 L73.5,401.8 L73.5,401.8 L69.5,401.8 L69.5,401.8 L65.5,401.8 L65.5,405.2 L61.5,405.2 Z" fill="#99f299"/>
<line x1="45.5" y1="397.9" x2="371.5" y2="397.9" stroke="#000" stroke-width="1" />
<polyline points="63.50,323.50 67.50,334.70 71.50,341.80 75.50,342.40 79.50,343.50 83.50,345.50 87.50,348.00 91.50,349.60 95.50,350.60 99.50,352.00 103.50,352.60 107.50,354.30 111.50,355.30 115.50,355.70 119.50,356.70 123.50,357.50 129.50,356.10 137.50,356.70 145.50,356.00 153.50,354.90 161.50,356.70 169.50,356.70 177.50,358.00 185.50,359.30 193.50,357.50 201.50,361.80 213.50,360.00 229.50,366.10 245.50,352.40 261.50,364.40 277.50,357.50 293.50,367.90 317.50,372.90 349.50,344.60" fill="none" stroke="#b5651d" stroke-width="1.3" stroke-dasharray="2.6,1.6" clip-path="url(#cbot)"/>
<line x1="185.5" y1="356.28" x2="185.5" y2="362.43" stroke="#b5651d" stroke-width="1.2" stroke-dasharray="2.6,1.6"/>
<line x1="184.3" y1="356.28" x2="186.7" y2="356.28" stroke="#b5651d" stroke-width="1"/>
<line x1="184.3" y1="362.43" x2="186.7" y2="362.43" stroke="#b5651d" stroke-width="1"/>
<line x1="193.5" y1="353.21" x2="193.5" y2="362.01" stroke="#b5651d" stroke-width="1.2" stroke-dasharray="2.6,1.6"/>
<line x1="192.3" y1="353.21" x2="194.7" y2="353.21" stroke="#b5651d" stroke-width="1"/>
<line x1="192.3" y1="362.01" x2="194.7" y2="362.01" stroke="#b5651d" stroke-width="1"/>
<line x1="201.5" y1="357.76" x2="201.5" y2="366.03" stroke="#b5651d" stroke-width="1.2" stroke-dasharray="2.6,1.6"/>
<line x1="200.3" y1="357.76" x2="202.7" y2="357.76" stroke="#b5651d" stroke-width="1"/>
<line x1="200.3" y1="366.03" x2="202.7" y2="366.03" stroke="#b5651d" stroke-width="1"/>
<line x1="213.5" y1="356.55" x2="213.5" y2="363.59" stroke="#b5651d" stroke-width="1.2" stroke-dasharray="2.6,1.6"/>
<line x1="212.3" y1="356.55" x2="214.7" y2="356.55" stroke="#b5651d" stroke-width="1"/>
<line x1="212.3" y1="363.59" x2="214.7" y2="363.59" stroke="#b5651d" stroke-width="1"/>
<line x1="229.5" y1="361.40" x2="229.5" y2="371.07" stroke="#b5651d" stroke-width="1.2" stroke-dasharray="2.6,1.6"/>
<line x1="228.3" y1="361.40" x2="230.7" y2="361.40" stroke="#b5651d" stroke-width="1"/>
<line x1="228.3" y1="371.07" x2="230.7" y2="371.07" stroke="#b5651d" stroke-width="1"/>
<line x1="245.5" y1="347.03" x2="245.5" y2="358.12" stroke="#b5651d" stroke-width="1.2" stroke-dasharray="2.6,1.6"/>
<line x1="244.3" y1="347.03" x2="246.7" y2="347.03" stroke="#b5651d" stroke-width="1"/>
<line x1="244.3" y1="358.12" x2="246.7" y2="358.12" stroke="#b5651d" stroke-width="1"/>
<line x1="261.5" y1="356.51" x2="261.5" y2="373.07" stroke="#b5651d" stroke-width="1.2" stroke-dasharray="2.6,1.6"/>
<line x1="260.3" y1="356.51" x2="262.7" y2="356.51" stroke="#b5651d" stroke-width="1"/>
<line x1="260.3" y1="373.07" x2="262.7" y2="373.07" stroke="#b5651d" stroke-width="1"/>
<line x1="277.5" y1="348.33" x2="277.5" y2="367.74" stroke="#b5651d" stroke-width="1.2" stroke-dasharray="2.6,1.6"/>
<line x1="276.3" y1="348.33" x2="278.7" y2="348.33" stroke="#b5651d" stroke-width="1"/>
<line x1="276.3" y1="367.74" x2="278.7" y2="367.74" stroke="#b5651d" stroke-width="1"/>
<line x1="293.5" y1="357.71" x2="293.5" y2="379.43" stroke="#b5651d" stroke-width="1.2" stroke-dasharray="2.6,1.6"/>
<line x1="292.3" y1="357.71" x2="294.7" y2="357.71" stroke="#b5651d" stroke-width="1"/>
<line x1="292.3" y1="379.43" x2="294.7" y2="379.43" stroke="#b5651d" stroke-width="1"/>
<line x1="317.5" y1="365.41" x2="317.5" y2="381.09" stroke="#b5651d" stroke-width="1.2" stroke-dasharray="2.6,1.6"/>
<line x1="316.3" y1="365.41" x2="318.7" y2="365.41" stroke="#b5651d" stroke-width="1"/>
<line x1="316.3" y1="381.09" x2="318.7" y2="381.09" stroke="#b5651d" stroke-width="1"/>
<line x1="349.5" y1="335.43" x2="349.5" y2="354.84" stroke="#b5651d" stroke-width="1.2" stroke-dasharray="2.6,1.6"/>
<line x1="348.3" y1="335.43" x2="350.7" y2="335.43" stroke="#b5651d" stroke-width="1"/>
<line x1="348.3" y1="354.84" x2="350.7" y2="354.84" stroke="#b5651d" stroke-width="1"/>
<circle cx="63.50" cy="323.50" r="2.75" fill="none" stroke="#b5651d" stroke-width="1.15"/>
<circle cx="67.50" cy="334.70" r="2.75" fill="none" stroke="#b5651d" stroke-width="1.15"/>
<circle cx="71.50" cy="341.80" r="2.75" fill="none" stroke="#b5651d" stroke-width="1.15"/>
<circle cx="75.50" cy="342.40" r="2.75" fill="none" stroke="#b5651d" stroke-width="1.15"/>
<circle cx="79.50" cy="343.50" r="2.75" fill="none" stroke="#b5651d" stroke-width="1.15"/>
<circle cx="83.50" cy="345.50" r="2.75" fill="none" stroke="#b5651d" stroke-width="1.15"/>
<circle cx="87.50" cy="348.00" r="2.75" fill="none" stroke="#b5651d" stroke-width="1.15"/>
<circle cx="91.50" cy="349.60" r="2.75" fill="none" stroke="#b5651d" stroke-width="1.15"/>
<circle cx="95.50" cy="350.60" r="2.75" fill="none" stroke="#b5651d" stroke-width="1.15"/>
<circle cx="99.50" cy="352.00" r="2.75" fill="none" stroke="#b5651d" stroke-width="1.15"/>
<circle cx="103.50" cy="352.60" r="2.75" fill="none" stroke="#b5651d" stroke-width="1.15"/>
<circle cx="107.50" cy="354.30" r="2.75" fill="none" stroke="#b5651d" stroke-width="1.15"/>
<circle cx="111.50" cy="355.30" r="2.75" fill="none" stroke="#b5651d" stroke-width="1.15"/>
<circle cx="115.50" cy="355.70" r="2.75" fill="none" stroke="#b5651d" stroke-width="1.15"/>
<circle cx="119.50" cy="356.70" r="2.75" fill="none" stroke="#b5651d" stroke-width="1.15"/>
<circle cx="123.50" cy="357.50" r="2.75" fill="none" stroke="#b5651d" stroke-width="1.15"/>
<circle cx="129.50" cy="356.10" r="2.75" fill="none" stroke="#b5651d" stroke-width="1.15"/>
<circle cx="137.50" cy="356.70" r="2.75" fill="none" stroke="#b5651d" stroke-width="1.15"/>
<circle cx="145.50" cy="356.00" r="2.75" fill="none" stroke="#b5651d" stroke-width="1.15"/>
<circle cx="153.50" cy="354.90" r="2.75" fill="none" stroke="#b5651d" stroke-width="1.15"/>
<circle cx="161.50" cy="356.70" r="2.75" fill="none" stroke="#b5651d" stroke-width="1.15"/>
<circle cx="169.50" cy="356.70" r="2.75" fill="none" stroke="#b5651d" stroke-width="1.15"/>
<circle cx="177.50" cy="358.00" r="2.75" fill="none" stroke="#b5651d" stroke-width="1.15"/>
<circle cx="185.50" cy="359.30" r="2.75" fill="none" stroke="#b5651d" stroke-width="1.15"/>
<circle cx="193.50" cy="357.50" r="2.75" fill="none" stroke="#b5651d" stroke-width="1.15"/>
<circle cx="201.50" cy="361.80" r="2.75" fill="none" stroke="#b5651d" stroke-width="1.15"/>
<circle cx="213.50" cy="360.00" r="2.75" fill="none" stroke="#b5651d" stroke-width="1.15"/>
<circle cx="229.50" cy="366.10" r="2.75" fill="none" stroke="#b5651d" stroke-width="1.15"/>
<circle cx="245.50" cy="352.40" r="2.75" fill="none" stroke="#b5651d" stroke-width="1.15"/>
<circle cx="261.50" cy="364.40" r="2.75" fill="none" stroke="#b5651d" stroke-width="1.15"/>
<circle cx="277.50" cy="357.50" r="2.75" fill="none" stroke="#b5651d" stroke-width="1.15"/>
<circle cx="293.50" cy="367.90" r="2.75" fill="none" stroke="#b5651d" stroke-width="1.15"/>
<circle cx="317.50" cy="372.90" r="2.75" fill="none" stroke="#b5651d" stroke-width="1.15"/>
<circle cx="349.50" cy="344.60" r="2.75" fill="none" stroke="#b5651d" stroke-width="1.15"/>
<polyline points="63.50,378.30 67.50,398.00 71.50,410.70 75.50,412.00 79.50,411.40 83.50,411.00 87.50,410.50 91.50,410.10 95.50,409.00 99.50,405.40 103.50,405.40 107.50,405.40 111.50,405.40 115.50,405.40 119.50,405.40 123.50,405.40 129.50,405.40 137.50,405.40 145.50,405.40 153.50,405.40 161.50,405.80 169.50,404.80 177.50,404.80 185.50,405.80 193.50,407.70 201.50,406.50 213.50,406.20 229.50,407.30 245.50,405.40 261.50,409.50 277.50,406.50 293.50,411.60 317.50,407.70 349.50,403.00" fill="none" stroke="#4ca02c" stroke-width="1.2" stroke-dasharray="3,2" clip-path="url(#cbot)"/>
<line x1="261.5" y1="406.26" x2="261.5" y2="412.87" stroke="#4ca02c" stroke-width="1.2" stroke-dasharray="3,2"/>
<line x1="260.3" y1="406.26" x2="262.7" y2="406.26" stroke="#4ca02c" stroke-width="1"/>
<line x1="260.3" y1="412.87" x2="262.7" y2="412.87" stroke="#4ca02c" stroke-width="1"/>
<line x1="277.5" y1="402.72" x2="277.5" y2="410.45" stroke="#4ca02c" stroke-width="1.2" stroke-dasharray="3,2"/>
<line x1="276.3" y1="402.72" x2="278.7" y2="402.72" stroke="#4ca02c" stroke-width="1"/>
<line x1="276.3" y1="410.45" x2="278.7" y2="410.45" stroke="#4ca02c" stroke-width="1"/>
<line x1="293.5" y1="407.38" x2="293.5" y2="416.03" stroke="#4ca02c" stroke-width="1.2" stroke-dasharray="3,2"/>
<line x1="292.3" y1="407.38" x2="294.7" y2="407.38" stroke="#4ca02c" stroke-width="1"/>
<line x1="292.3" y1="416.03" x2="294.7" y2="416.03" stroke="#4ca02c" stroke-width="1"/>
<line x1="317.5" y1="404.63" x2="317.5" y2="410.88" stroke="#4ca02c" stroke-width="1.2" stroke-dasharray="3,2"/>
<line x1="316.3" y1="404.63" x2="318.7" y2="404.63" stroke="#4ca02c" stroke-width="1"/>
<line x1="316.3" y1="410.88" x2="318.7" y2="410.88" stroke="#4ca02c" stroke-width="1"/>
<line x1="349.5" y1="399.22" x2="349.5" y2="406.95" stroke="#4ca02c" stroke-width="1.2" stroke-dasharray="3,2"/>
<line x1="348.3" y1="399.22" x2="350.7" y2="399.22" stroke="#4ca02c" stroke-width="1"/>
<line x1="348.3" y1="406.95" x2="350.7" y2="406.95" stroke="#4ca02c" stroke-width="1"/>
<rect x="60.80" y="375.60" width="5.4" height="5.4" fill="none" stroke="#4ca02c" stroke-width="1.1"/>
<rect x="64.80" y="395.30" width="5.4" height="5.4" fill="none" stroke="#4ca02c" stroke-width="1.1"/>
<rect x="68.80" y="408.00" width="5.4" height="5.4" fill="none" stroke="#4ca02c" stroke-width="1.1"/>
<rect x="72.80" y="409.30" width="5.4" height="5.4" fill="none" stroke="#4ca02c" stroke-width="1.1"/>
<rect x="76.80" y="408.70" width="5.4" height="5.4" fill="none" stroke="#4ca02c" stroke-width="1.1"/>
<rect x="80.80" y="408.30" width="5.4" height="5.4" fill="none" stroke="#4ca02c" stroke-width="1.1"/>
<rect x="84.80" y="407.80" width="5.4" height="5.4" fill="none" stroke="#4ca02c" stroke-width="1.1"/>
<rect x="88.80" y="407.40" width="5.4" height="5.4" fill="none" stroke="#4ca02c" stroke-width="1.1"/>
<rect x="92.80" y="406.30" width="5.4" height="5.4" fill="none" stroke="#4ca02c" stroke-width="1.1"/>
<rect x="96.80" y="402.70" width="5.4" height="5.4" fill="none" stroke="#4ca02c" stroke-width="1.1"/>
<rect x="100.80" y="402.70" width="5.4" height="5.4" fill="none" stroke="#4ca02c" stroke-width="1.1"/>
<rect x="104.80" y="402.70" width="5.4" height="5.4" fill="none" stroke="#4ca02c" stroke-width="1.1"/>
<rect x="108.80" y="402.70" width="5.4" height="5.4" fill="none" stroke="#4ca02c" stroke-width="1.1"/>
<rect x="112.80" y="402.70" width="5.4" height="5.4" fill="none" stroke="#4ca02c" stroke-width="1.1"/>
<rect x="116.80" y="402.70" width="5.4" height="5.4" fill="none" stroke="#4ca02c" stroke-width="1.1"/>
<rect x="120.80" y="402.70" width="5.4" height="5.4" fill="none" stroke="#4ca02c" stroke-width="1.1"/>
<rect x="126.80" y="402.70" width="5.4" height="5.4" fill="none" stroke="#4ca02c" stroke-width="1.1"/>
<rect x="134.80" y="402.70" width="5.4" height="5.4" fill="none" stroke="#4ca02c" stroke-width="1.1"/>
<rect x="142.80" y="402.70" width="5.4" height="5.4" fill="none" stroke="#4ca02c" stroke-width="1.1"/>
<rect x="150.80" y="402.70" width="5.4" height="5.4" fill="none" stroke="#4ca02c" stroke-width="1.1"/>
<rect x="158.80" y="403.10" width="5.4" height="5.4" fill="none" stroke="#4ca02c" stroke-width="1.1"/>
<rect x="166.80" y="402.10" width="5.4" height="5.4" fill="none" stroke="#4ca02c" stroke-width="1.1"/>
<rect x="174.80" y="402.10" width="5.4" height="5.4" fill="none" stroke="#4ca02c" stroke-width="1.1"/>
<rect x="182.80" y="403.10" width="5.4" height="5.4" fill="none" stroke="#4ca02c" stroke-width="1.1"/>
<rect x="190.80" y="405.00" width="5.4" height="5.4" fill="none" stroke="#4ca02c" stroke-width="1.1"/>
<rect x="198.80" y="403.80" width="5.4" height="5.4" fill="none" stroke="#4ca02c" stroke-width="1.1"/>
<rect x="210.80" y="403.50" width="5.4" height="5.4" fill="none" stroke="#4ca02c" stroke-width="1.1"/>
<rect x="226.80" y="404.60" width="5.4" height="5.4" fill="none" stroke="#4ca02c" stroke-width="1.1"/>
<rect x="242.80" y="402.70" width="5.4" height="5.4" fill="none" stroke="#4ca02c" stroke-width="1.1"/>
<rect x="258.80" y="406.80" width="5.4" height="5.4" fill="none" stroke="#4ca02c" stroke-width="1.1"/>
<rect x="274.80" y="403.80" width="5.4" height="5.4" fill="none" stroke="#4ca02c" stroke-width="1.1"/>
<rect x="290.80" y="408.90" width="5.4" height="5.4" fill="none" stroke="#4ca02c" stroke-width="1.1"/>
<rect x="314.80" y="405.00" width="5.4" height="5.4" fill="none" stroke="#4ca02c" stroke-width="1.1"/>
<rect x="346.80" y="400.30" width="5.4" height="5.4" fill="none" stroke="#4ca02c" stroke-width="1.1"/>
<polyline points="63.50,399.50 67.50,399.50 71.50,399.00 75.50,398.50 79.50,398.00 83.50,397.80 87.50,397.60 91.50,397.60 95.50,397.60 99.50,397.40 103.50,397.60 107.50,397.80 111.50,398.60 115.50,399.20 119.50,399.70 123.50,400.20 129.50,399.90 137.50,400.00 145.50,400.00 153.50,400.00 161.50,401.30 169.50,399.70 177.50,399.70 185.50,400.30 193.50,398.40 201.50,400.30 213.50,400.00 229.50,400.40 245.50,394.20 261.50,403.40 277.50,398.30 293.50,398.70 317.50,399.10 349.50,405.50" fill="none" stroke="#0000ff" stroke-width="1.2"  clip-path="url(#cbot)"/>
<line x1="261.5" y1="400.16" x2="261.5" y2="406.77" stroke="#0000ff" stroke-width="1.2" />
<line x1="260.3" y1="400.16" x2="262.7" y2="400.16" stroke="#0000ff" stroke-width="1"/>
<line x1="260.3" y1="406.77" x2="262.7" y2="406.77" stroke="#0000ff" stroke-width="1"/>
<line x1="277.5" y1="394.52" x2="277.5" y2="402.25" stroke="#0000ff" stroke-width="1.2" />
<line x1="276.3" y1="394.52" x2="278.7" y2="394.52" stroke="#0000ff" stroke-width="1"/>
<line x1="276.3" y1="402.25" x2="278.7" y2="402.25" stroke="#0000ff" stroke-width="1"/>
<line x1="293.5" y1="394.48" x2="293.5" y2="403.13" stroke="#0000ff" stroke-width="1.2" />
<line x1="292.3" y1="394.48" x2="294.7" y2="394.48" stroke="#0000ff" stroke-width="1"/>
<line x1="292.3" y1="403.13" x2="294.7" y2="403.13" stroke="#0000ff" stroke-width="1"/>
<line x1="317.5" y1="396.03" x2="317.5" y2="402.28" stroke="#0000ff" stroke-width="1.2" />
<line x1="316.3" y1="396.03" x2="318.7" y2="396.03" stroke="#0000ff" stroke-width="1"/>
<line x1="316.3" y1="402.28" x2="318.7" y2="402.28" stroke="#0000ff" stroke-width="1"/>
<line x1="349.5" y1="401.72" x2="349.5" y2="409.45" stroke="#0000ff" stroke-width="1.2" />
<line x1="348.3" y1="401.72" x2="350.7" y2="401.72" stroke="#0000ff" stroke-width="1"/>
<line x1="348.3" y1="409.45" x2="350.7" y2="409.45" stroke="#0000ff" stroke-width="1"/>
<path d="M60.70,401.90L66.30,401.90L63.50,396.60Z" fill="#0000ff"/>
<path d="M64.70,401.90L70.30,401.90L67.50,396.60Z" fill="#0000ff"/>
<path d="M68.70,401.40L74.30,401.40L71.50,396.10Z" fill="#0000ff"/>
<path d="M72.70,400.90L78.30,400.90L75.50,395.60Z" fill="#0000ff"/>
<path d="M76.70,400.40L82.30,400.40L79.50,395.10Z" fill="#0000ff"/>
<path d="M80.70,400.20L86.30,400.20L83.50,394.90Z" fill="#0000ff"/>
<path d="M84.70,400.00L90.30,400.00L87.50,394.70Z" fill="#0000ff"/>
<path d="M88.70,400.00L94.30,400.00L91.50,394.70Z" fill="#0000ff"/>
<path d="M92.70,400.00L98.30,400.00L95.50,394.70Z" fill="#0000ff"/>
<path d="M96.70,399.80L102.30,399.80L99.50,394.50Z" fill="#0000ff"/>
<path d="M100.70,400.00L106.30,400.00L103.50,394.70Z" fill="#0000ff"/>
<path d="M104.70,400.20L110.30,400.20L107.50,394.90Z" fill="#0000ff"/>
<path d="M108.70,401.00L114.30,401.00L111.50,395.70Z" fill="#0000ff"/>
<path d="M112.70,401.60L118.30,401.60L115.50,396.30Z" fill="#0000ff"/>
<path d="M116.70,402.10L122.30,402.10L119.50,396.80Z" fill="#0000ff"/>
<path d="M120.70,402.60L126.30,402.60L123.50,397.30Z" fill="#0000ff"/>
<path d="M126.70,402.30L132.30,402.30L129.50,397.00Z" fill="#0000ff"/>
<path d="M134.70,402.40L140.30,402.40L137.50,397.10Z" fill="#0000ff"/>
<path d="M142.70,402.40L148.30,402.40L145.50,397.10Z" fill="#0000ff"/>
<path d="M150.70,402.40L156.30,402.40L153.50,397.10Z" fill="#0000ff"/>
<path d="M158.70,403.70L164.30,403.70L161.50,398.40Z" fill="#0000ff"/>
<path d="M166.70,402.10L172.30,402.10L169.50,396.80Z" fill="#0000ff"/>
<path d="M174.70,402.10L180.30,402.10L177.50,396.80Z" fill="#0000ff"/>
<path d="M182.70,402.70L188.30,402.70L185.50,397.40Z" fill="#0000ff"/>
<path d="M190.70,400.80L196.30,400.80L193.50,395.50Z" fill="#0000ff"/>
<path d="M198.70,402.70L204.30,402.70L201.50,397.40Z" fill="#0000ff"/>
<path d="M210.70,402.40L216.30,402.40L213.50,397.10Z" fill="#0000ff"/>
<path d="M226.70,402.80L232.30,402.80L229.50,397.50Z" fill="#0000ff"/>
<path d="M242.70,396.60L248.30,396.60L245.50,391.30Z" fill="#0000ff"/>
<path d="M258.70,405.80L264.30,405.80L261.50,400.50Z" fill="#0000ff"/>
<path d="M274.70,400.70L280.30,400.70L277.50,395.40Z" fill="#0000ff"/>
<path d="M290.70,401.10L296.30,401.10L293.50,395.80Z" fill="#0000ff"/>
<path d="M314.70,401.50L320.30,401.50L317.50,396.20Z" fill="#0000ff"/>
<path d="M346.70,407.90L352.30,407.90L349.50,402.60Z" fill="#0000ff"/>
<polyline points="63.50,393.40 67.50,395.30 71.50,397.30 75.50,398.80 79.50,400.90 83.50,402.40 87.50,404.40 91.50,405.40 95.50,406.40 99.50,407.40 103.50,407.90 107.50,409.90 111.50,409.90 115.50,410.90 119.50,410.90 123.50,411.50 129.50,410.90 137.50,412.50 145.50,411.80 153.50,410.50 161.50,411.00 169.50,411.00 177.50,409.80 185.50,411.00 193.50,408.50 201.50,406.50 213.50,412.50 229.50,407.00 245.50,401.40 261.50,408.50 277.50,408.50 293.50,407.70 317.50,415.90 349.50,398.30" fill="none" stroke="#1a9cc4" stroke-width="1.2" stroke-dasharray="3.8,1.9,1.1,1.6" clip-path="url(#cbot)"/>
<line x1="261.5" y1="405.26" x2="261.5" y2="411.87" stroke="#1a9cc4" stroke-width="1.2" stroke-dasharray="3.8,1.9,1.1,1.6"/>
<line x1="260.3" y1="405.26" x2="262.7" y2="405.26" stroke="#1a9cc4" stroke-width="1"/>
<line x1="260.3" y1="411.87" x2="262.7" y2="411.87" stroke="#1a9cc4" stroke-width="1"/>
<line x1="277.5" y1="404.72" x2="277.5" y2="412.45" stroke="#1a9cc4" stroke-width="1.2" stroke-dasharray="3.8,1.9,1.1,1.6"/>
<line x1="276.3" y1="404.72" x2="278.7" y2="404.72" stroke="#1a9cc4" stroke-width="1"/>
<line x1="276.3" y1="412.45" x2="278.7" y2="412.45" stroke="#1a9cc4" stroke-width="1"/>
<line x1="293.5" y1="403.48" x2="293.5" y2="412.13" stroke="#1a9cc4" stroke-width="1.2" stroke-dasharray="3.8,1.9,1.1,1.6"/>
<line x1="292.3" y1="403.48" x2="294.7" y2="403.48" stroke="#1a9cc4" stroke-width="1"/>
<line x1="292.3" y1="412.13" x2="294.7" y2="412.13" stroke="#1a9cc4" stroke-width="1"/>
<line x1="317.5" y1="412.83" x2="317.5" y2="419.08" stroke="#1a9cc4" stroke-width="1.2" stroke-dasharray="3.8,1.9,1.1,1.6"/>
<line x1="316.3" y1="412.83" x2="318.7" y2="412.83" stroke="#1a9cc4" stroke-width="1"/>
<line x1="316.3" y1="419.08" x2="318.7" y2="419.08" stroke="#1a9cc4" stroke-width="1"/>
<line x1="349.5" y1="394.52" x2="349.5" y2="402.25" stroke="#1a9cc4" stroke-width="1.2" stroke-dasharray="3.8,1.9,1.1,1.6"/>
<line x1="348.3" y1="394.52" x2="350.7" y2="394.52" stroke="#1a9cc4" stroke-width="1"/>
<line x1="348.3" y1="402.25" x2="350.7" y2="402.25" stroke="#1a9cc4" stroke-width="1"/>
<path d="M60.70,391.00L66.30,391.00L63.50,396.30Z" fill="#1a9cc4"/>
<path d="M64.70,392.90L70.30,392.90L67.50,398.20Z" fill="#1a9cc4"/>
<path d="M68.70,394.90L74.30,394.90L71.50,400.20Z" fill="#1a9cc4"/>
<path d="M72.70,396.40L78.30,396.40L75.50,401.70Z" fill="#1a9cc4"/>
<path d="M76.70,398.50L82.30,398.50L79.50,403.80Z" fill="#1a9cc4"/>
<path d="M80.70,400.00L86.30,400.00L83.50,405.30Z" fill="#1a9cc4"/>
<path d="M84.70,402.00L90.30,402.00L87.50,407.30Z" fill="#1a9cc4"/>
<path d="M88.70,403.00L94.30,403.00L91.50,408.30Z" fill="#1a9cc4"/>
<path d="M92.70,404.00L98.30,404.00L95.50,409.30Z" fill="#1a9cc4"/>
<path d="M96.70,405.00L102.30,405.00L99.50,410.30Z" fill="#1a9cc4"/>
<path d="M100.70,405.50L106.30,405.50L103.50,410.80Z" fill="#1a9cc4"/>
<path d="M104.70,407.50L110.30,407.50L107.50,412.80Z" fill="#1a9cc4"/>
<path d="M108.70,407.50L114.30,407.50L111.50,412.80Z" fill="#1a9cc4"/>
<path d="M112.70,408.50L118.30,408.50L115.50,413.80Z" fill="#1a9cc4"/>
<path d="M116.70,408.50L122.30,408.50L119.50,413.80Z" fill="#1a9cc4"/>
<path d="M120.70,409.10L126.30,409.10L123.50,414.40Z" fill="#1a9cc4"/>
<path d="M126.70,408.50L132.30,408.50L129.50,413.80Z" fill="#1a9cc4"/>
<path d="M134.70,410.10L140.30,410.10L137.50,415.40Z" fill="#1a9cc4"/>
<path d="M142.70,409.40L148.30,409.40L145.50,414.70Z" fill="#1a9cc4"/>
<path d="M150.70,408.10L156.30,408.10L153.50,413.40Z" fill="#1a9cc4"/>
<path d="M158.70,408.60L164.30,408.60L161.50,413.90Z" fill="#1a9cc4"/>
<path d="M166.70,408.60L172.30,408.60L169.50,413.90Z" fill="#1a9cc4"/>
<path d="M174.70,407.40L180.30,407.40L177.50,412.70Z" fill="#1a9cc4"/>
<path d="M182.70,408.60L188.30,408.60L185.50,413.90Z" fill="#1a9cc4"/>
<path d="M190.70,406.10L196.30,406.10L193.50,411.40Z" fill="#1a9cc4"/>
<path d="M198.70,404.10L204.30,404.10L201.50,409.40Z" fill="#1a9cc4"/>
<path d="M210.70,410.10L216.30,410.10L213.50,415.40Z" fill="#1a9cc4"/>
<path d="M226.70,404.60L232.30,404.60L229.50,409.90Z" fill="#1a9cc4"/>
<path d="M242.70,399.00L248.30,399.00L245.50,404.30Z" fill="#1a9cc4"/>
<path d="M258.70,406.10L264.30,406.10L261.50,411.40Z" fill="#1a9cc4"/>
<path d="M274.70,406.10L280.30,406.10L277.50,411.40Z" fill="#1a9cc4"/>
<path d="M290.70,405.30L296.30,405.30L293.50,410.60Z" fill="#1a9cc4"/>
<path d="M314.70,413.50L320.30,413.50L317.50,418.80Z" fill="#1a9cc4"/>
<path d="M346.70,395.90L352.30,395.90L349.50,401.20Z" fill="#1a9cc4"/>
<polyline points="63.50,406.60 67.50,430.10 71.50,447.20 75.50,458.70 79.50,464.50 83.50,467.70 87.50,468.90 91.50,468.20 95.50,466.70 99.50,465.00 103.50,463.00 107.50,461.50 111.50,457.40 115.50,456.60 119.50,453.10 123.50,452.00 129.50,446.70 137.50,443.30 145.50,441.00 153.50,436.50 161.50,430.30 169.50,429.40 177.50,426.40 185.50,424.60 193.50,422.30 201.50,421.70 213.50,420.10 229.50,421.70 245.50,408.90 261.50,411.60 277.50,416.60 293.50,419.70 317.50,418.40 349.50,412.60" fill="none" stroke="#ff0000" stroke-width="1.3" stroke-dasharray="1.2,1" clip-path="url(#cbot)"/>
<line x1="261.5" y1="408.36" x2="261.5" y2="414.97" stroke="#ff0000" stroke-width="1.2" stroke-dasharray="1.2,1"/>
<line x1="260.3" y1="408.36" x2="262.7" y2="408.36" stroke="#ff0000" stroke-width="1"/>
<line x1="260.3" y1="414.97" x2="262.7" y2="414.97" stroke="#ff0000" stroke-width="1"/>
<line x1="277.5" y1="412.82" x2="277.5" y2="420.55" stroke="#ff0000" stroke-width="1.2" stroke-dasharray="1.2,1"/>
<line x1="276.3" y1="412.82" x2="278.7" y2="412.82" stroke="#ff0000" stroke-width="1"/>
<line x1="276.3" y1="420.55" x2="278.7" y2="420.55" stroke="#ff0000" stroke-width="1"/>
<line x1="293.5" y1="415.48" x2="293.5" y2="424.13" stroke="#ff0000" stroke-width="1.2" stroke-dasharray="1.2,1"/>
<line x1="292.3" y1="415.48" x2="294.7" y2="415.48" stroke="#ff0000" stroke-width="1"/>
<line x1="292.3" y1="424.13" x2="294.7" y2="424.13" stroke="#ff0000" stroke-width="1"/>
<line x1="317.5" y1="415.33" x2="317.5" y2="421.58" stroke="#ff0000" stroke-width="1.2" stroke-dasharray="1.2,1"/>
<line x1="316.3" y1="415.33" x2="318.7" y2="415.33" stroke="#ff0000" stroke-width="1"/>
<line x1="316.3" y1="421.58" x2="318.7" y2="421.58" stroke="#ff0000" stroke-width="1"/>
<line x1="349.5" y1="408.82" x2="349.5" y2="416.55" stroke="#ff0000" stroke-width="1.2" stroke-dasharray="1.2,1"/>
<line x1="348.3" y1="408.82" x2="350.7" y2="408.82" stroke="#ff0000" stroke-width="1"/>
<line x1="348.3" y1="416.55" x2="350.7" y2="416.55" stroke="#ff0000" stroke-width="1"/>
<path d="M63.50,403.40L65.50,406.60L63.50,409.80L61.50,406.60Z" fill="#ff0000"/>
<path d="M67.50,426.90L69.50,430.10L67.50,433.30L65.50,430.10Z" fill="#ff0000"/>
<path d="M71.50,444.00L73.50,447.20L71.50,450.40L69.50,447.20Z" fill="#ff0000"/>
<path d="M75.50,455.50L77.50,458.70L75.50,461.90L73.50,458.70Z" fill="#ff0000"/>
<path d="M79.50,461.30L81.50,464.50L79.50,467.70L77.50,464.50Z" fill="#ff0000"/>
<path d="M83.50,464.50L85.50,467.70L83.50,470.90L81.50,467.70Z" fill="#ff0000"/>
<path d="M87.50,465.70L89.50,468.90L87.50,472.10L85.50,468.90Z" fill="#ff0000"/>
<path d="M91.50,465.00L93.50,468.20L91.50,471.40L89.50,468.20Z" fill="#ff0000"/>
<path d="M95.50,463.50L97.50,466.70L95.50,469.90L93.50,466.70Z" fill="#ff0000"/>
<path d="M99.50,461.80L101.50,465.00L99.50,468.20L97.50,465.00Z" fill="#ff0000"/>
<path d="M103.50,459.80L105.50,463.00L103.50,466.20L101.50,463.00Z" fill="#ff0000"/>
<path d="M107.50,458.30L109.50,461.50L107.50,464.70L105.50,461.50Z" fill="#ff0000"/>
<path d="M111.50,454.20L113.50,457.40L111.50,460.60L109.50,457.40Z" fill="#ff0000"/>
<path d="M115.50,453.40L117.50,456.60L115.50,459.80L113.50,456.60Z" fill="#ff0000"/>
<path d="M119.50,449.90L121.50,453.10L119.50,456.30L117.50,453.10Z" fill="#ff0000"/>
<path d="M123.50,448.80L125.50,452.00L123.50,455.20L121.50,452.00Z" fill="#ff0000"/>
<path d="M129.50,443.50L131.50,446.70L129.50,449.90L127.50,446.70Z" fill="#ff0000"/>
<path d="M137.50,440.10L139.50,443.30L137.50,446.50L135.50,443.30Z" fill="#ff0000"/>
<path d="M145.50,437.80L147.50,441.00L145.50,444.20L143.50,441.00Z" fill="#ff0000"/>
<path d="M153.50,433.30L155.50,436.50L153.50,439.70L151.50,436.50Z" fill="#ff0000"/>
<path d="M161.50,427.10L163.50,430.30L161.50,433.50L159.50,430.30Z" fill="#ff0000"/>
<path d="M169.50,426.20L171.50,429.40L169.50,432.60L167.50,429.40Z" fill="#ff0000"/>
<path d="M177.50,423.20L179.50,426.40L177.50,429.60L175.50,426.40Z" fill="#ff0000"/>
<path d="M185.50,421.40L187.50,424.60L185.50,427.80L183.50,424.60Z" fill="#ff0000"/>
<path d="M193.50,419.10L195.50,422.30L193.50,425.50L191.50,422.30Z" fill="#ff0000"/>
<path d="M201.50,418.50L203.50,421.70L201.50,424.90L199.50,421.70Z" fill="#ff0000"/>
<path d="M213.50,416.90L215.50,420.10L213.50,423.30L211.50,420.10Z" fill="#ff0000"/>
<path d="M229.50,418.50L231.50,421.70L229.50,424.90L227.50,421.70Z" fill="#ff0000"/>
<path d="M245.50,405.70L247.50,408.90L245.50,412.10L243.50,408.90Z" fill="#ff0000"/>
<path d="M261.50,408.40L263.50,411.60L261.50,414.80L259.50,411.60Z" fill="#ff0000"/>
<path d="M277.50,413.40L279.50,416.60L277.50,419.80L275.50,416.60Z" fill="#ff0000"/>
<path d="M293.50,416.50L295.50,419.70L293.50,422.90L291.50,419.70Z" fill="#ff0000"/>
<path d="M317.50,415.20L319.50,418.40L317.50,421.60L315.50,418.40Z" fill="#ff0000"/>
<path d="M349.50,409.40L351.50,412.60L349.50,415.80L347.50,412.60Z" fill="#ff0000"/>
<rect x="45.5" y="17.5" width="326" height="300" fill="none" stroke="#000" stroke-width="1"/>
<rect x="45.5" y="317.5" width="326" height="160" fill="none" stroke="#000" stroke-width="1"/>
<line x1="45" y1="477.6" x2="372" y2="477.6" stroke="#000" stroke-width="1.9" />
<line x1="45.5" y1="317.5" x2="45.5" y2="309.5" stroke="#000" stroke-width="1" />
<line x1="45.5" y1="17.5" x2="45.5" y2="25.5" stroke="#000" stroke-width="1" />
<line x1="45.5" y1="317.5" x2="45.5" y2="322.5" stroke="#000" stroke-width="1" />
<line x1="45.5" y1="477.5" x2="45.5" y2="472.5" stroke="#000" stroke-width="1" />
<line x1="53.5" y1="317.5" x2="53.5" y2="315.5" stroke="#000" stroke-width="1" />
<line x1="53.5" y1="17.5" x2="53.5" y2="19.5" stroke="#000" stroke-width="1" />
<line x1="53.5" y1="317.5" x2="53.5" y2="319.0" stroke="#000" stroke-width="1" />
<line x1="53.5" y1="477.5" x2="53.5" y2="476.0" stroke="#000" stroke-width="1" />
<line x1="61.5" y1="317.5" x2="61.5" y2="313.5" stroke="#000" stroke-width="1" />
<line x1="61.5" y1="17.5" x2="61.5" y2="21.5" stroke="#000" stroke-width="1" />
<line x1="61.5" y1="317.5" x2="61.5" y2="320.0" stroke="#000" stroke-width="1" />
<line x1="61.5" y1="477.5" x2="61.5" y2="475.0" stroke="#000" stroke-width="1" />
<line x1="69.5" y1="317.5" x2="69.5" y2="315.5" stroke="#000" stroke-width="1" />
<line x1="69.5" y1="17.5" x2="69.5" y2="19.5" stroke="#000" stroke-width="1" />
<line x1="69.5" y1="317.5" x2="69.5" y2="319.0" stroke="#000" stroke-width="1" />
<line x1="69.5" y1="477.5" x2="69.5" y2="476.0" stroke="#000" stroke-width="1" />
<line x1="77.5" y1="317.5" x2="77.5" y2="313.5" stroke="#000" stroke-width="1" />
<line x1="77.5" y1="17.5" x2="77.5" y2="21.5" stroke="#000" stroke-width="1" />
<line x1="77.5" y1="317.5" x2="77.5" y2="320.0" stroke="#000" stroke-width="1" />
<line x1="77.5" y1="477.5" x2="77.5" y2="475.0" stroke="#000" stroke-width="1" />
<line x1="85.5" y1="317.5" x2="85.5" y2="315.5" stroke="#000" stroke-width="1" />
<line x1="85.5" y1="17.5" x2="85.5" y2="19.5" stroke="#000" stroke-width="1" />
<line x1="85.5" y1="317.5" x2="85.5" y2="319.0" stroke="#000" stroke-width="1" />
<line x1="85.5" y1="477.5" x2="85.5" y2="476.0" stroke="#000" stroke-width="1" />
<line x1="93.5" y1="317.5" x2="93.5" y2="313.5" stroke="#000" stroke-width="1" />
<line x1="93.5" y1="17.5" x2="93.5" y2="21.5" stroke="#000" stroke-width="1" />
<line x1="93.5" y1="317.5" x2="93.5" y2="320.0" stroke="#000" stroke-width="1" />
<line x1="93.5" y1="477.5" x2="93.5" y2="475.0" stroke="#000" stroke-width="1" />
<line x1="101.5" y1="317.5" x2="101.5" y2="315.5" stroke="#000" stroke-width="1" />
<line x1="101.5" y1="17.5" x2="101.5" y2="19.5" stroke="#000" stroke-width="1" />
<line x1="101.5" y1="317.5" x2="101.5" y2="319.0" stroke="#000" stroke-width="1" />
<line x1="101.5" y1="477.5" x2="101.5" y2="476.0" stroke="#000" stroke-width="1" />
<line x1="109.5" y1="317.5" x2="109.5" y2="313.5" stroke="#000" stroke-width="1" />
<line x1="109.5" y1="17.5" x2="109.5" y2="21.5" stroke="#000" stroke-width="1" />
<line x1="109.5" y1="317.5" x2="109.5" y2="320.0" stroke="#000" stroke-width="1" />
<line x1="109.5" y1="477.5" x2="109.5" y2="475.0" stroke="#000" stroke-width="1" />
<line x1="117.5" y1="317.5" x2="117.5" y2="315.5" stroke="#000" stroke-width="1" />
<line x1="117.5" y1="17.5" x2="117.5" y2="19.5" stroke="#000" stroke-width="1" />
<line x1="117.5" y1="317.5" x2="117.5" y2="319.0" stroke="#000" stroke-width="1" />
<line x1="117.5" y1="477.5" x2="117.5" y2="476.0" stroke="#000" stroke-width="1" />
<line x1="125.5" y1="317.5" x2="125.5" y2="309.5" stroke="#000" stroke-width="1" />
<line x1="125.5" y1="17.5" x2="125.5" y2="25.5" stroke="#000" stroke-width="1" />
<line x1="125.5" y1="317.5" x2="125.5" y2="322.5" stroke="#000" stroke-width="1" />
<line x1="125.5" y1="477.5" x2="125.5" y2="472.5" stroke="#000" stroke-width="1" />
<line x1="133.5" y1="317.5" x2="133.5" y2="315.5" stroke="#000" stroke-width="1" />
<line x1="133.5" y1="17.5" x2="133.5" y2="19.5" stroke="#000" stroke-width="1" />
<line x1="133.5" y1="317.5" x2="133.5" y2="319.0" stroke="#000" stroke-width="1" />
<line x1="133.5" y1="477.5" x2="133.5" y2="476.0" stroke="#000" stroke-width="1" />
<line x1="141.5" y1="317.5" x2="141.5" y2="313.5" stroke="#000" stroke-width="1" />
<line x1="141.5" y1="17.5" x2="141.5" y2="21.5" stroke="#000" stroke-width="1" />
<line x1="141.5" y1="317.5" x2="141.5" y2="320.0" stroke="#000" stroke-width="1" />
<line x1="141.5" y1="477.5" x2="141.5" y2="475.0" stroke="#000" stroke-width="1" />
<line x1="149.5" y1="317.5" x2="149.5" y2="315.5" stroke="#000" stroke-width="1" />
<line x1="149.5" y1="17.5" x2="149.5" y2="19.5" stroke="#000" stroke-width="1" />
<line x1="149.5" y1="317.5" x2="149.5" y2="319.0" stroke="#000" stroke-width="1" />
<line x1="149.5" y1="477.5" x2="149.5" y2="476.0" stroke="#000" stroke-width="1" />
<line x1="157.5" y1="317.5" x2="157.5" y2="313.5" stroke="#000" stroke-width="1" />
<line x1="157.5" y1="17.5" x2="157.5" y2="21.5" stroke="#000" stroke-width="1" />
<line x1="157.5" y1="317.5" x2="157.5" y2="320.0" stroke="#000" stroke-width="1" />
<line x1="157.5" y1="477.5" x2="157.5" y2="475.0" stroke="#000" stroke-width="1" />
<line x1="165.5" y1="317.5" x2="165.5" y2="315.5" stroke="#000" stroke-width="1" />
<line x1="165.5" y1="17.5" x2="165.5" y2="19.5" stroke="#000" stroke-width="1" />
<line x1="165.5" y1="317.5" x2="165.5" y2="319.0" stroke="#000" stroke-width="1" />
<line x1="165.5" y1="477.5" x2="165.5" y2="476.0" stroke="#000" stroke-width="1" />
<line x1="173.5" y1="317.5" x2="173.5" y2="313.5" stroke="#000" stroke-width="1" />
<line x1="173.5" y1="17.5" x2="173.5" y2="21.5" stroke="#000" stroke-width="1" />
<line x1="173.5" y1="317.5" x2="173.5" y2="320.0" stroke="#000" stroke-width="1" />
<line x1="173.5" y1="477.5" x2="173.5" y2="475.0" stroke="#000" stroke-width="1" />
<line x1="181.5" y1="317.5" x2="181.5" y2="315.5" stroke="#000" stroke-width="1" />
<line x1="181.5" y1="17.5" x2="181.5" y2="19.5" stroke="#000" stroke-width="1" />
<line x1="181.5" y1="317.5" x2="181.5" y2="319.0" stroke="#000" stroke-width="1" />
<line x1="181.5" y1="477.5" x2="181.5" y2="476.0" stroke="#000" stroke-width="1" />
<line x1="189.5" y1="317.5" x2="189.5" y2="313.5" stroke="#000" stroke-width="1" />
<line x1="189.5" y1="17.5" x2="189.5" y2="21.5" stroke="#000" stroke-width="1" />
<line x1="189.5" y1="317.5" x2="189.5" y2="320.0" stroke="#000" stroke-width="1" />
<line x1="189.5" y1="477.5" x2="189.5" y2="475.0" stroke="#000" stroke-width="1" />
<line x1="197.5" y1="317.5" x2="197.5" y2="315.5" stroke="#000" stroke-width="1" />
<line x1="197.5" y1="17.5" x2="197.5" y2="19.5" stroke="#000" stroke-width="1" />
<line x1="197.5" y1="317.5" x2="197.5" y2="319.0" stroke="#000" stroke-width="1" />
<line x1="197.5" y1="477.5" x2="197.5" y2="476.0" stroke="#000" stroke-width="1" />
<line x1="205.5" y1="317.5" x2="205.5" y2="309.5" stroke="#000" stroke-width="1" />
<line x1="205.5" y1="17.5" x2="205.5" y2="25.5" stroke="#000" stroke-width="1" />
<line x1="205.5" y1="317.5" x2="205.5" y2="322.5" stroke="#000" stroke-width="1" />
<line x1="205.5" y1="477.5" x2="205.5" y2="472.5" stroke="#000" stroke-width="1" />
<line x1="213.5" y1="317.5" x2="213.5" y2="315.5" stroke="#000" stroke-width="1" />
<line x1="213.5" y1="17.5" x2="213.5" y2="19.5" stroke="#000" stroke-width="1" />
<line x1="213.5" y1="317.5" x2="213.5" y2="319.0" stroke="#000" stroke-width="1" />
<line x1="213.5" y1="477.5" x2="213.5" y2="476.0" stroke="#000" stroke-width="1" />
<line x1="221.5" y1="317.5" x2="221.5" y2="313.5" stroke="#000" stroke-width="1" />
<line x1="221.5" y1="17.5" x2="221.5" y2="21.5" stroke="#000" stroke-width="1" />
<line x1="221.5" y1="317.5" x2="221.5" y2="320.0" stroke="#000" stroke-width="1" />
<line x1="221.5" y1="477.5" x2="221.5" y2="475.0" stroke="#000" stroke-width="1" />
<line x1="229.5" y1="317.5" x2="229.5" y2="315.5" stroke="#000" stroke-width="1" />
<line x1="229.5" y1="17.5" x2="229.5" y2="19.5" stroke="#000" stroke-width="1" />
<line x1="229.5" y1="317.5" x2="229.5" y2="319.0" stroke="#000" stroke-width="1" />
<line x1="229.5" y1="477.5" x2="229.5" y2="476.0" stroke="#000" stroke-width="1" />
<line x1="237.5" y1="317.5" x2="237.5" y2="313.5" stroke="#000" stroke-width="1" />
<line x1="237.5" y1="17.5" x2="237.5" y2="21.5" stroke="#000" stroke-width="1" />
<line x1="237.5" y1="317.5" x2="237.5" y2="320.0" stroke="#000" stroke-width="1" />
<line x1="237.5" y1="477.5" x2="237.5" y2="475.0" stroke="#000" stroke-width="1" />
<line x1="245.5" y1="317.5" x2="245.5" y2="315.5" stroke="#000" stroke-width="1" />
<line x1="245.5" y1="17.5" x2="245.5" y2="19.5" stroke="#000" stroke-width="1" />
<line x1="245.5" y1="317.5" x2="245.5" y2="319.0" stroke="#000" stroke-width="1" />
<line x1="245.5" y1="477.5" x2="245.5" y2="476.0" stroke="#000" stroke-width="1" />
<line x1="253.5" y1="317.5" x2="253.5" y2="313.5" stroke="#000" stroke-width="1" />
<line x1="253.5" y1="17.5" x2="253.5" y2="21.5" stroke="#000" stroke-width="1" />
<line x1="253.5" y1="317.5" x2="253.5" y2="320.0" stroke="#000" stroke-width="1" />
<line x1="253.5" y1="477.5" x2="253.5" y2="475.0" stroke="#000" stroke-width="1" />
<line x1="261.5" y1="317.5" x2="261.5" y2="315.5" stroke="#000" stroke-width="1" />
<line x1="261.5" y1="17.5" x2="261.5" y2="19.5" stroke="#000" stroke-width="1" />
<line x1="261.5" y1="317.5" x2="261.5" y2="319.0" stroke="#000" stroke-width="1" />
<line x1="261.5" y1="477.5" x2="261.5" y2="476.0" stroke="#000" stroke-width="1" />
<line x1="269.5" y1="317.5" x2="269.5" y2="313.5" stroke="#000" stroke-width="1" />
<line x1="269.5" y1="17.5" x2="269.5" y2="21.5" stroke="#000" stroke-width="1" />
<line x1="269.5" y1="317.5" x2="269.5" y2="320.0" stroke="#000" stroke-width="1" />
<line x1="269.5" y1="477.5" x2="269.5" y2="475.0" stroke="#000" stroke-width="1" />
<line x1="277.5" y1="317.5" x2="277.5" y2="315.5" stroke="#000" stroke-width="1" />
<line x1="277.5" y1="17.5" x2="277.5" y2="19.5" stroke="#000" stroke-width="1" />
<line x1="277.5" y1="317.5" x2="277.5" y2="319.0" stroke="#000" stroke-width="1" />
<line x1="277.5" y1="477.5" x2="277.5" y2="476.0" stroke="#000" stroke-width="1" />
<line x1="285.5" y1="317.5" x2="285.5" y2="309.5" stroke="#000" stroke-width="1" />
<line x1="285.5" y1="17.5" x2="285.5" y2="25.5" stroke="#000" stroke-width="1" />
<line x1="285.5" y1="317.5" x2="285.5" y2="322.5" stroke="#000" stroke-width="1" />
<line x1="285.5" y1="477.5" x2="285.5" y2="472.5" stroke="#000" stroke-width="1" />
<line x1="293.5" y1="317.5" x2="293.5" y2="315.5" stroke="#000" stroke-width="1" />
<line x1="293.5" y1="17.5" x2="293.5" y2="19.5" stroke="#000" stroke-width="1" />
<line x1="293.5" y1="317.5" x2="293.5" y2="319.0" stroke="#000" stroke-width="1" />
<line x1="293.5" y1="477.5" x2="293.5" y2="476.0" stroke="#000" stroke-width="1" />
<line x1="301.5" y1="317.5" x2="301.5" y2="313.5" stroke="#000" stroke-width="1" />
<line x1="301.5" y1="17.5" x2="301.5" y2="21.5" stroke="#000" stroke-width="1" />
<line x1="301.5" y1="317.5" x2="301.5" y2="320.0" stroke="#000" stroke-width="1" />
<line x1="301.5" y1="477.5" x2="301.5" y2="475.0" stroke="#000" stroke-width="1" />
<line x1="309.5" y1="317.5" x2="309.5" y2="315.5" stroke="#000" stroke-width="1" />
<line x1="309.5" y1="17.5" x2="309.5" y2="19.5" stroke="#000" stroke-width="1" />
<line x1="309.5" y1="317.5" x2="309.5" y2="319.0" stroke="#000" stroke-width="1" />
<line x1="309.5" y1="477.5" x2="309.5" y2="476.0" stroke="#000" stroke-width="1" />
<line x1="317.5" y1="317.5" x2="317.5" y2="313.5" stroke="#000" stroke-width="1" />
<line x1="317.5" y1="17.5" x2="317.5" y2="21.5" stroke="#000" stroke-width="1" />
<line x1="317.5" y1="317.5" x2="317.5" y2="320.0" stroke="#000" stroke-width="1" />
<line x1="317.5" y1="477.5" x2="317.5" y2="475.0" stroke="#000" stroke-width="1" />
<line x1="325.5" y1="317.5" x2="325.5" y2="315.5" stroke="#000" stroke-width="1" />
<line x1="325.5" y1="17.5" x2="325.5" y2="19.5" stroke="#000" stroke-width="1" />
<line x1="325.5" y1="317.5" x2="325.5" y2="319.0" stroke="#000" stroke-width="1" />
<line x1="325.5" y1="477.5" x2="325.5" y2="476.0" stroke="#000" stroke-width="1" />
<line x1="333.5" y1="317.5" x2="333.5" y2="313.5" stroke="#000" stroke-width="1" />
<line x1="333.5" y1="17.5" x2="333.5" y2="21.5" stroke="#000" stroke-width="1" />
<line x1="333.5" y1="317.5" x2="333.5" y2="320.0" stroke="#000" stroke-width="1" />
<line x1="333.5" y1="477.5" x2="333.5" y2="475.0" stroke="#000" stroke-width="1" />
<line x1="341.5" y1="317.5" x2="341.5" y2="315.5" stroke="#000" stroke-width="1" />
<line x1="341.5" y1="17.5" x2="341.5" y2="19.5" stroke="#000" stroke-width="1" />
<line x1="341.5" y1="317.5" x2="341.5" y2="319.0" stroke="#000" stroke-width="1" />
<line x1="341.5" y1="477.5" x2="341.5" y2="476.0" stroke="#000" stroke-width="1" />
<line x1="349.5" y1="317.5" x2="349.5" y2="313.5" stroke="#000" stroke-width="1" />
<line x1="349.5" y1="17.5" x2="349.5" y2="21.5" stroke="#000" stroke-width="1" />
<line x1="349.5" y1="317.5" x2="349.5" y2="320.0" stroke="#000" stroke-width="1" />
<line x1="349.5" y1="477.5" x2="349.5" y2="475.0" stroke="#000" stroke-width="1" />
<line x1="357.5" y1="317.5" x2="357.5" y2="315.5" stroke="#000" stroke-width="1" />
<line x1="357.5" y1="17.5" x2="357.5" y2="19.5" stroke="#000" stroke-width="1" />
<line x1="357.5" y1="317.5" x2="357.5" y2="319.0" stroke="#000" stroke-width="1" />
<line x1="357.5" y1="477.5" x2="357.5" y2="476.0" stroke="#000" stroke-width="1" />
<line x1="365.5" y1="317.5" x2="365.5" y2="309.5" stroke="#000" stroke-width="1" />
<line x1="365.5" y1="17.5" x2="365.5" y2="25.5" stroke="#000" stroke-width="1" />
<line x1="365.5" y1="317.5" x2="365.5" y2="322.5" stroke="#000" stroke-width="1" />
<line x1="365.5" y1="477.5" x2="365.5" y2="472.5" stroke="#000" stroke-width="1" />
<line x1="45.5" y1="304.65000000000003" x2="51.5" y2="304.65000000000003" stroke="#000" stroke-width="1" />
<line x1="371.5" y1="304.65000000000003" x2="365.5" y2="304.65000000000003" stroke="#000" stroke-width="1" />
<line x1="45.5" y1="292.0" x2="51.5" y2="292.0" stroke="#000" stroke-width="1" />
<line x1="371.5" y1="292.0" x2="365.5" y2="292.0" stroke="#000" stroke-width="1" />
<line x1="45.5" y1="279.35" x2="51.5" y2="279.35" stroke="#000" stroke-width="1" />
<line x1="371.5" y1="279.35" x2="365.5" y2="279.35" stroke="#000" stroke-width="1" />
<line x1="45.5" y1="266.7" x2="56.5" y2="266.7" stroke="#000" stroke-width="1" />
<line x1="371.5" y1="266.7" x2="360.5" y2="266.7" stroke="#000" stroke-width="1" />
<text x="41.6" y="270.9" font-size="11" text-anchor="end" fill="#222" >2</text>
<line x1="45.5" y1="254.04999999999998" x2="51.5" y2="254.04999999999998" stroke="#000" stroke-width="1" />
<line x1="371.5" y1="254.04999999999998" x2="365.5" y2="254.04999999999998" stroke="#000" stroke-width="1" />
<line x1="45.5" y1="241.39999999999998" x2="51.5" y2="241.39999999999998" stroke="#000" stroke-width="1" />
<line x1="371.5" y1="241.39999999999998" x2="365.5" y2="241.39999999999998" stroke="#000" stroke-width="1" />
<line x1="45.5" y1="228.74999999999997" x2="51.5" y2="228.74999999999997" stroke="#000" stroke-width="1" />
<line x1="371.5" y1="228.74999999999997" x2="365.5" y2="228.74999999999997" stroke="#000" stroke-width="1" />
<line x1="45.5" y1="216.1" x2="56.5" y2="216.1" stroke="#000" stroke-width="1" />
<line x1="371.5" y1="216.1" x2="360.5" y2="216.1" stroke="#000" stroke-width="1" />
<text x="41.6" y="220.3" font-size="11" text-anchor="end" fill="#222" >4</text>
<line x1="45.5" y1="203.44999999999996" x2="51.5" y2="203.44999999999996" stroke="#000" stroke-width="1" />
<line x1="371.5" y1="203.44999999999996" x2="365.5" y2="203.44999999999996" stroke="#000" stroke-width="1" />
<line x1="45.5" y1="190.79999999999998" x2="51.5" y2="190.79999999999998" stroke="#000" stroke-width="1" />
<line x1="371.5" y1="190.79999999999998" x2="365.5" y2="190.79999999999998" stroke="#000" stroke-width="1" />
<line x1="45.5" y1="178.14999999999998" x2="51.5" y2="178.14999999999998" stroke="#000" stroke-width="1" />
<line x1="371.5" y1="178.14999999999998" x2="365.5" y2="178.14999999999998" stroke="#000" stroke-width="1" />
<line x1="45.5" y1="165.49999999999997" x2="56.5" y2="165.49999999999997" stroke="#000" stroke-width="1" />
<line x1="371.5" y1="165.49999999999997" x2="360.5" y2="165.49999999999997" stroke="#000" stroke-width="1" />
<text x="41.6" y="169.7" font-size="11" text-anchor="end" fill="#222" >6</text>
<line x1="45.5" y1="152.84999999999997" x2="51.5" y2="152.84999999999997" stroke="#000" stroke-width="1" />
<line x1="371.5" y1="152.84999999999997" x2="365.5" y2="152.84999999999997" stroke="#000" stroke-width="1" />
<line x1="45.5" y1="140.2" x2="51.5" y2="140.2" stroke="#000" stroke-width="1" />
<line x1="371.5" y1="140.2" x2="365.5" y2="140.2" stroke="#000" stroke-width="1" />
<line x1="45.5" y1="127.54999999999998" x2="51.5" y2="127.54999999999998" stroke="#000" stroke-width="1" />
<line x1="371.5" y1="127.54999999999998" x2="365.5" y2="127.54999999999998" stroke="#000" stroke-width="1" />
<line x1="45.5" y1="114.89999999999998" x2="56.5" y2="114.89999999999998" stroke="#000" stroke-width="1" />
<line x1="371.5" y1="114.89999999999998" x2="360.5" y2="114.89999999999998" stroke="#000" stroke-width="1" />
<text x="41.6" y="119.09999999999998" font-size="11" text-anchor="end" fill="#222" >8</text>
<line x1="45.5" y1="102.24999999999997" x2="51.5" y2="102.24999999999997" stroke="#000" stroke-width="1" />
<line x1="371.5" y1="102.24999999999997" x2="365.5" y2="102.24999999999997" stroke="#000" stroke-width="1" />
<line x1="45.5" y1="89.59999999999997" x2="51.5" y2="89.59999999999997" stroke="#000" stroke-width="1" />
<line x1="371.5" y1="89.59999999999997" x2="365.5" y2="89.59999999999997" stroke="#000" stroke-width="1" />
<line x1="45.5" y1="76.94999999999999" x2="51.5" y2="76.94999999999999" stroke="#000" stroke-width="1" />
<line x1="371.5" y1="76.94999999999999" x2="365.5" y2="76.94999999999999" stroke="#000" stroke-width="1" />
<line x1="45.5" y1="64.29999999999998" x2="56.5" y2="64.29999999999998" stroke="#000" stroke-width="1" />
<line x1="371.5" y1="64.29999999999998" x2="360.5" y2="64.29999999999998" stroke="#000" stroke-width="1" />
<text x="41.6" y="68.49999999999999" font-size="11" text-anchor="end" fill="#222" >10</text>
<line x1="45.5" y1="51.649999999999956" x2="51.5" y2="51.649999999999956" stroke="#000" stroke-width="1" />
<line x1="371.5" y1="51.649999999999956" x2="365.5" y2="51.649999999999956" stroke="#000" stroke-width="1" />
<line x1="45.5" y1="38.99999999999998" x2="51.5" y2="38.99999999999998" stroke="#000" stroke-width="1" />
<line x1="371.5" y1="38.99999999999998" x2="365.5" y2="38.99999999999998" stroke="#000" stroke-width="1" />
<line x1="45.5" y1="26.35" x2="51.5" y2="26.35" stroke="#000" stroke-width="1" />
<line x1="371.5" y1="26.35" x2="365.5" y2="26.35" stroke="#000" stroke-width="1" />
<line x1="45.5" y1="458.7983681228234" x2="52.5" y2="458.7983681228234" stroke="#000" stroke-width="1" />
<line x1="371.5" y1="458.7983681228234" x2="364.5" y2="458.7983681228234" stroke="#000" stroke-width="1" />
<line x1="45.5" y1="442.78000204738885" x2="50.5" y2="442.78000204738885" stroke="#000" stroke-width="1" />
<line x1="371.5" y1="442.78000204738885" x2="366.5" y2="442.78000204738885" stroke="#000" stroke-width="1" />
<line x1="45.5" y1="429.2366665051158" x2="50.5" y2="429.2366665051158" stroke="#000" stroke-width="1" />
<line x1="371.5" y1="429.2366665051158" x2="366.5" y2="429.2366665051158" stroke="#000" stroke-width="1" />
<line x1="45.5" y1="417.5048956315298" x2="50.5" y2="417.5048956315298" stroke="#000" stroke-width="1" />
<line x1="371.5" y1="417.5048956315298" x2="366.5" y2="417.5048956315298" stroke="#000" stroke-width="1" />
<line x1="45.5" y1="407.15674034042456" x2="50.5" y2="407.15674034042456" stroke="#000" stroke-width="1" />
<line x1="371.5" y1="407.15674034042456" x2="366.5" y2="407.15674034042456" stroke="#000" stroke-width="1" />
<line x1="45.5" y1="397.9" x2="52.5" y2="397.9" stroke="#000" stroke-width="1" />
<line x1="371.5" y1="397.9" x2="364.5" y2="397.9" stroke="#000" stroke-width="1" />
<line x1="45.5" y1="389.52625979249103" x2="50.5" y2="389.52625979249103" stroke="#000" stroke-width="1" />
<line x1="371.5" y1="389.52625979249103" x2="366.5" y2="389.52625979249103" stroke="#000" stroke-width="1" />
<line x1="45.5" y1="381.88163392456545" x2="50.5" y2="381.88163392456545" stroke="#000" stroke-width="1" />
<line x1="371.5" y1="381.88163392456545" x2="366.5" y2="381.88163392456545" stroke="#000" stroke-width="1" />
<line x1="45.5" y1="374.8492598283269" x2="50.5" y2="374.8492598283269" stroke="#000" stroke-width="1" />
<line x1="371.5" y1="374.8492598283269" x2="366.5" y2="374.8492598283269" stroke="#000" stroke-width="1" />
<line x1="45.5" y1="368.3382983822924" x2="50.5" y2="368.3382983822924" stroke="#000" stroke-width="1" />
<line x1="371.5" y1="368.3382983822924" x2="366.5" y2="368.3382983822924" stroke="#000" stroke-width="1" />
<line x1="45.5" y1="362.2767382930357" x2="50.5" y2="362.2767382930357" stroke="#000" stroke-width="1" />
<line x1="371.5" y1="362.2767382930357" x2="366.5" y2="362.2767382930357" stroke="#000" stroke-width="1" />
<line x1="45.5" y1="356.6065275087064" x2="50.5" y2="356.6065275087064" stroke="#000" stroke-width="1" />
<line x1="371.5" y1="356.6065275087064" x2="366.5" y2="356.6065275087064" stroke="#000" stroke-width="1" />
<line x1="45.5" y1="351.28018320517515" x2="50.5" y2="351.28018320517515" stroke="#000" stroke-width="1" />
<line x1="371.5" y1="351.28018320517515" x2="366.5" y2="351.28018320517515" stroke="#000" stroke-width="1" />
<line x1="45.5" y1="346.25837221760116" x2="50.5" y2="346.25837221760116" stroke="#000" stroke-width="1" />
<line x1="371.5" y1="346.25837221760116" x2="366.5" y2="346.25837221760116" stroke="#000" stroke-width="1" />
<line x1="45.5" y1="341.5081465272427" x2="50.5" y2="341.5081465272427" stroke="#000" stroke-width="1" />
<line x1="371.5" y1="341.5081465272427" x2="366.5" y2="341.5081465272427" stroke="#000" stroke-width="1" />
<line x1="45.5" y1="337.0016318771766" x2="52.5" y2="337.0016318771766" stroke="#000" stroke-width="1" />
<line x1="371.5" y1="337.0016318771766" x2="364.5" y2="337.0016318771766" stroke="#000" stroke-width="1" />
<line x1="45.5" y1="332.71503667532807" x2="50.5" y2="332.71503667532807" stroke="#000" stroke-width="1" />
<line x1="371.5" y1="332.71503667532807" x2="366.5" y2="332.71503667532807" stroke="#000" stroke-width="1" />
<line x1="45.5" y1="328.62789166966763" x2="50.5" y2="328.62789166966763" stroke="#000" stroke-width="1" />
<line x1="371.5" y1="328.62789166966763" x2="366.5" y2="328.62789166966763" stroke="#000" stroke-width="1" />
<line x1="45.5" y1="324.72245877364094" x2="50.5" y2="324.72245877364094" stroke="#000" stroke-width="1" />
<line x1="371.5" y1="324.72245877364094" x2="366.5" y2="324.72245877364094" stroke="#000" stroke-width="1" />
<line x1="45.5" y1="320.98326580174205" x2="50.5" y2="320.98326580174205" stroke="#000" stroke-width="1" />
<line x1="371.5" y1="320.98326580174205" x2="366.5" y2="320.98326580174205" stroke="#000" stroke-width="1" />
<text x="39.0" y="341.3016318771766" font-size="12" text-anchor="end" fill="#222" >2</text>
<text x="373.2" y="341.3016318771766" font-size="12" text-anchor="start" fill="#222" >2</text>
<text x="39.0" y="402.2" font-size="12" text-anchor="end" fill="#222" >1</text>
<text x="373.2" y="402.2" font-size="12" text-anchor="start" fill="#222" >1</text>
<text x="39.0" y="463.0983681228234" font-size="12" text-anchor="end" fill="#222" >0.5</text>
<text x="373.2" y="463.0983681228234" font-size="12" text-anchor="start" fill="#222" >0.5</text>
<text x="45.8" y="489.3" font-size="11.3" text-anchor="middle" fill="#222" >0</text>
<text x="125.8" y="489.3" font-size="11.3" text-anchor="middle" fill="#222" >5</text>
<text x="205.8" y="489.3" font-size="11.3" text-anchor="middle" fill="#222" >10</text>
<text x="285.8" y="489.3" font-size="11.3" text-anchor="middle" fill="#222" >15</text>
<text x="365.8" y="489.3" font-size="11.3" text-anchor="middle" fill="#222" >20</text>
<text x="242.3" y="501.3" font-size="12.9" text-anchor="start" fill="#222" >p</text>
<text x="250.6" y="507.6" font-size="7.4" text-anchor="start" fill="#222" >T</text>
<text x="376.2" y="501.3" font-size="12.9" text-anchor="end" fill="#222" >(leading track) [GeV]</text>
<text x="122" y="41.5" font-size="11.3" text-anchor="start" fill="#222" >&lt;N</text>
<text x="136.6" y="46.8" font-size="8" text-anchor="start" fill="#222" >ch</text>
<text x="145.3" y="41.5" font-size="11.3" text-anchor="start" fill="#222" >&gt; vs</text>
<text x="170.6" y="41.5" font-size="11.3" text-anchor="start" fill="#222" >p</text>
<text x="176.4" y="37.3" font-size="8.4" text-anchor="start" fill="#222" >lead</text>
<text x="176.2" y="49.2" font-size="8" text-anchor="start" fill="#222" >T</text>
<text x="192.4" y="43.4" font-size="9.75" text-anchor="start" fill="#222" >(|η| &lt; 2.5,</text>
<text x="237.6" y="43.4" font-size="10" text-anchor="start" fill="#222" >p</text>
<text x="242.8" y="46.3" font-size="6.4" text-anchor="start" fill="#222" >T</text>
<text x="248.4" y="43.4" font-size="9.6" text-anchor="start" fill="#222" >&gt; 0.1 GeV</text>
<text x="293.0" y="43.4" font-size="10" text-anchor="start" fill="#222" >)</text>
</svg>
</body></html>
